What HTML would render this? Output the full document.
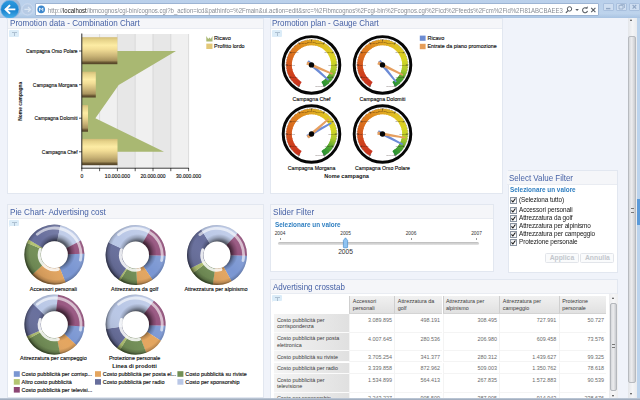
<!DOCTYPE html>
<html><head><meta charset="utf-8"><title>IBM Cognos Business Insight</title>
<style>
html,body{margin:0;padding:0}
body{width:640px;height:400px;overflow:hidden;position:relative;background:#f0f3fa;font-family:"Liberation Sans",sans-serif;color:#222}
.abs{position:absolute}
.panel{position:absolute;background:#fff;border:1px solid #e2e7f0;box-sizing:border-box}
.ph{position:absolute;left:0;top:0;right:0;height:9.6px;background:#f5f6f9;border-bottom:1px solid #e9ecf2}
.pt{position:absolute;left:1.4px;top:-.7px;font-size:8.75px;line-height:11px;color:#4762a6;white-space:nowrap;transform:scaleX(.926);transform-origin:0 0}
.ic{position:absolute;width:10px;height:6.6px;background:#dbecf8;border-radius:1px}
.ic:before{content:"";position:absolute;left:.2px;top:6px;border-left:1.6px solid #dbecf8;border-bottom:1.8px solid transparent}
.ic:after{content:"";position:absolute;left:3.2px;top:1.7px;width:4.6px;height:3px;border-top:.9px solid #a9bccd;background:linear-gradient(90deg,transparent 38%,#a9bccd 38%,#a9bccd 60%,transparent 60%);opacity:.9}
.t{position:absolute;white-space:nowrap;line-height:1}
.sl{top:27px;font-size:4.8px;color:#333;transform:translateX(-50%)}
.tk{top:33.2px;width:.7px;height:1.5px;background:#999}
.cb{position:absolute;left:2.8px;width:6.6px;height:6.6px;border:.8px solid #8b95a3;box-sizing:border-box;background:linear-gradient(135deg,#e9ebee,#fff)}
.cl{position:absolute;left:11.8px;font-size:6.6px;line-height:1;white-space:nowrap;color:#151515;letter-spacing:-.1px;transform:scaleX(.97);transform-origin:0 0}
.btn{position:absolute;top:81.6px;height:10px;box-sizing:border-box;border:1px solid #e2e5ea;border-radius:1.5px;background:#fafbfc;font-size:6.8px;font-weight:bold;color:#c3c7cd;text-align:center;line-height:8.4px}
.ch{box-sizing:border-box;background:linear-gradient(#f1f1f1,#e1e1e1);border-left:1px solid #cfcfcf;border-bottom:1px solid #d4d4d4}
.rh{box-sizing:border-box;background:linear-gradient(90deg,#f4f4f4,#e0e0e0);border-bottom:1px solid #fbfbfb}
.dc{box-sizing:border-box;background:#fff;border-left:1px solid #f4f4f4;border-bottom:1px solid #f4f4f4}
.tx{position:absolute;font-size:5.4px;line-height:6.7px;color:#3a3a3a;white-space:nowrap}
.nm{position:absolute;right:2.5px;font-size:5.4px;line-height:7px;color:#6a6a6a;white-space:nowrap}
</style></head><body>

<!-- ============ browser chrome ============ -->
<div class="abs" id="chrome" style="left:0;top:0;width:640px;height:17.5px;background:linear-gradient(#bad0eb 0,#bdd3ec 75%,#a9c3e2 100%)"></div>
<svg class="abs" style="left:0;top:0" width="640" height="20" viewBox="0 0 640 20">
  <defs>
    <linearGradient id="bk" x1="0" y1="0" x2="0" y2="1"><stop offset="0" stop-color="#2b9be0"/><stop offset=".55" stop-color="#1a84cf"/><stop offset="1" stop-color="#4ab0ea"/></linearGradient>
  </defs>
  <circle cx="11.5" cy="8" r="9.5" fill="#8fa3bd" opacity=".55"/>
  <circle cx="9.8" cy="9.4" r="9.1" fill="url(#bk)" stroke="#7fb6e6" stroke-width=".6"/>
  <path d="M5.6 9.4 L9.4 5.8 M5.6 9.4 L9.4 13 M5.8 9.4 L14.4 9.4" stroke="#fff" stroke-width="1.9" fill="none" stroke-linecap="square"/>
  <circle cx="27.5" cy="9.4" r="5.6" fill="#b7cbe5" stroke="#cfddf0" stroke-width=".9"/>
  <path d="M24.4 9.4 L30.4 9.4 M28 7 L30.5 9.4 L28 11.8" stroke="#dbe6f3" stroke-width="1.2" fill="none"/>
</svg>
<div class="abs" id="addr" style="left:35px;top:3.2px;width:564px;height:12.6px;background:#fff;border:1px solid #9db4d3;box-sizing:border-box;border-radius:1px"></div>
<svg class="abs" style="left:36px;top:4px" width="12" height="11" viewBox="0 0 12 11"><circle cx="5.2" cy="5.4" r="3.8" fill="#3a86cc"/><path d="M3.6 7.2V3.9L5.2 5.6 6.8 3.9V7.2" stroke="#fff" stroke-width=".9" fill="none"/></svg>
<div class="t" id="url" style="left:48px;top:6.6px;font-size:7px;transform:scaleX(.858);transform-origin:0 0;color:#878c94">http://<span style="color:#111">localhost</span>/ibmcognos/cgi-bin/cognos.cgi?b_action=icd&amp;pathinfo=%2Fmain&amp;ui.action=edit&amp;src=%2Fibmcognos%2Fcgi-bin%2Fcognos.cgi%2Ficd%2Ffeeds%2Fcm%2Fid%2Fi81ABCBAEE3</div>
<svg class="abs" style="left:564px;top:4.6px" width="34" height="11" viewBox="0 0 34 11">
  <circle cx="5.5" cy="3.9" r="2.2" fill="none" stroke="#555a62" stroke-width="1"/><path d="M4 5.6L1.9 7.8" stroke="#555a62" stroke-width="1.2"/>
  <path d="M11.3 4.1h3.6l-1.8 2z" fill="#555a62"/>
  <path d="M22.8 3.4A2.5 2.5 0 1 0 23.5 5.9" fill="none" stroke="#555a62" stroke-width="1.05"/><path d="M21.3 3.6h2.4v-2.4z" fill="#555a62"/>
  <path d="M27.2 2.9l4.2 4.2M31.4 2.9l-4.2 4.2" stroke="#555a62" stroke-width="1.1"/>
</svg>
<!-- window buttons -->
<div class="abs" style="left:602.5px;top:2.5px;width:11px;height:8.5px;background:#cfdef1;border:1px solid #a9c0de;box-sizing:border-box;border-radius:1px"></div>
<div class="abs" style="left:615.5px;top:2.5px;width:11px;height:8.5px;background:#cfdef1;border:1px solid #a9c0de;box-sizing:border-box;border-radius:1px"></div>
<div class="abs" style="left:628.5px;top:2.5px;width:11.5px;height:8.5px;background:#cfdef1;border:1px solid #a9c0de;box-sizing:border-box;border-radius:1px"></div>
<svg class="abs" style="left:602px;top:2px" width="38" height="10" viewBox="0 0 38 10"><path d="M4 6.6h4.4" stroke="#90a6c4" stroke-width="1.4"/><path d="M17 3.4h4v3.6h-4zM18.4 2.4h4v3.6" stroke="#90a6c4" fill="none" stroke-width=".8"/><path d="M30.6 3l3.6 3.6M34.2 3l-3.6 3.6" stroke="#90a6c4" stroke-width="1.1"/></svg>

<!-- ============ main scrollbar ============ -->
<div class="abs" style="left:627.5px;top:17.5px;width:9px;height:381px;background:linear-gradient(90deg,#e4e6ea,#f3f4f6 50%,#e9ebee)"></div>
<div class="abs" style="left:628px;top:36px;width:8px;height:347px;background:linear-gradient(90deg,#d6d8db,#ececee 45%,#c9cbcf);border-radius:2px;border:.5px solid #b7babf;box-sizing:border-box"></div>
<div class="abs" style="left:630.2px;top:19.3px;border-left:1.9px solid transparent;border-right:1.9px solid transparent;border-bottom:2.2px solid #444"></div>
<div class="abs" style="left:630.2px;top:393.3px;border-left:1.9px solid transparent;border-right:1.9px solid transparent;border-top:2.2px solid #444"></div>
<div class="abs" style="left:630.5px;top:207.5px;width:3px;height:3px;border-top:.6px solid #777;border-bottom:.6px solid #777"></div>
<div class="abs" style="left:636.5px;top:17.5px;width:3.5px;height:381px;background:#bcd3ec"></div>
<div class="abs" style="left:637px;top:199px;width:3px;height:26px;background:#5b9ad9"></div>

<!-- ============ Panel 1 : combination chart ============ -->
<div class="panel" id="p1" style="left:7.2px;top:17.5px;width:256.8px;height:176px">
  <div class="ph"></div><div class="pt">Promotion data - Combination Chart</div>
  <div class="ic" style="left:.8px;top:11.5px"></div>
</div>

<!-- ============ Panel 2 : gauge chart ============ -->
<div class="panel" id="p2" style="left:270px;top:17.5px;width:232.6px;height:176px">
  <div class="ph"></div><div class="pt" style="transform:scaleX(.915)">Promotion plan - Gauge Chart</div>
  <div class="ic" style="left:.8px;top:11.5px"></div>
</div>

<!-- ============ Panel 3 : pie chart ============ -->
<div class="panel" id="p3" style="left:7.2px;top:204.3px;width:256.8px;height:194.2px">
  <div class="ph" style="height:12.6px"></div><div class="pt" style="top:1.5px;transform:scaleX(.93)">Pie Chart- Advertising cost</div>
  <div class="ic" style="left:.8px;top:14.6px"></div>
</div>

<!-- ============ Panel 4 : slider ============ -->
<div class="panel" id="p4" style="left:270px;top:204.3px;width:224px;height:68.2px">
  <div class="ph" style="height:12.6px"></div><div class="pt" style="top:1.5px;left:1.8px;transform:scaleX(.93)">Slider Filter</div>
  <div class="t" style="left:4px;top:16.4px;font-size:6.7px;font-weight:bold;color:#3180c2;transform:scaleX(.955);transform-origin:0 0">Selezionare un valore</div>
  <div class="t sl" style="left:9px">2004</div><div class="t sl" style="left:74.6px">2005</div><div class="t sl" style="left:140px">2006</div><div class="t sl" style="left:205.5px">2007</div>
  <div class="abs tk" style="left:8.7px"></div><div class="abs tk" style="left:74.3px"></div><div class="abs tk" style="left:139.7px"></div><div class="abs tk" style="left:205.2px"></div>
  <div class="abs" style="left:6.8px;top:36.8px;width:201.4px;height:3.4px;border-radius:2px;background:linear-gradient(#b9b9b9,#d6d6d6 60%,#e4e4e4)"></div>
  <svg class="abs" style="left:70.1px;top:32.2px" width="9" height="12" viewBox="0 0 9 12"><path d="M4.5 .8L6.6 3.4V10.2Q6.6 10.8 6 10.8H3Q2.4 10.8 2.4 10.2V3.4Z" fill="#8fc3f1" stroke="#4d8fcc" stroke-width=".7"/></svg>
  <div class="t" style="left:74.6px;top:43.6px;font-size:6.7px;color:#333;transform:translateX(-50%)">2005</div>

</div>

<!-- ============ Panel 5 : select value ============ -->
<div class="panel" id="p5" style="left:507.5px;top:170px;width:110.5px;height:102.5px">
<div class="abs" style="left:-1.1px;top:0;width:109.6px;height:100px">
  <div class="ph" style="height:12.6px"></div><div class="pt" style="top:1.5px;left:2px;transform:scaleX(.91)">Select Value Filter</div>
  <div class="t" style="left:2.6px;top:16.3px;font-size:6.7px;font-weight:bold;color:#3180c2;transform:scaleX(.955);transform-origin:0 0">Selezionare un valore</div>
  <div class="cb" style="top:26.0px"></div><svg class="abs" style="left:2.8px;top:26.0px" width="7" height="7" viewBox="0 0 7 7"><path d="M1.5 3.3L2.9 5L5.4 1.5" stroke="#111" stroke-width="1.05" fill="none"/></svg><div class="cl" style="top:26.1px">(Seleziona tutto)</div>
  <div class="cb" style="top:36.2px"></div><svg class="abs" style="left:2.8px;top:36.2px" width="7" height="7" viewBox="0 0 7 7"><path d="M1.5 3.3L2.9 5L5.4 1.5" stroke="#111" stroke-width="1.05" fill="none"/></svg><div class="cl" style="top:36.3px">Accessori personali</div>
  <div class="cb" style="top:44.1px"></div><svg class="abs" style="left:2.8px;top:44.1px" width="7" height="7" viewBox="0 0 7 7"><path d="M1.5 3.3L2.9 5L5.4 1.5" stroke="#111" stroke-width="1.05" fill="none"/></svg><div class="cl" style="top:44.2px">Attrezzatura da golf</div>
  <div class="cb" style="top:52.1px"></div><svg class="abs" style="left:2.8px;top:52.1px" width="7" height="7" viewBox="0 0 7 7"><path d="M1.5 3.3L2.9 5L5.4 1.5" stroke="#111" stroke-width="1.05" fill="none"/></svg><div class="cl" style="top:52.2px">Attrezzatura per alpinismo</div>
  <div class="cb" style="top:60.2px"></div><svg class="abs" style="left:2.8px;top:60.2px" width="7" height="7" viewBox="0 0 7 7"><path d="M1.5 3.3L2.9 5L5.4 1.5" stroke="#111" stroke-width="1.05" fill="none"/></svg><div class="cl" style="top:60.3px">Attrezzatura per campeggio</div>
  <div class="cb" style="top:68.3px"></div><svg class="abs" style="left:2.8px;top:68.3px" width="7" height="7" viewBox="0 0 7 7"><path d="M1.5 3.3L2.9 5L5.4 1.5" stroke="#111" stroke-width="1.05" fill="none"/></svg><div class="cl" style="top:68.4px">Protezione personale</div>
  <div class="btn" style="left:37.5px;width:34px">Applica</div><div class="btn" style="left:73px;width:34px">Annulla</div>
</div>

</div>

<!-- ============ Panel 6 : crosstab ============ -->
<div class="panel" id="p6" style="left:270px;top:279.3px;width:348px;height:125px">
  <div class="ph" style="height:12.6px"></div><div class="pt" style="top:1.5px;left:1.5px;transform:scaleX(.913)">Advertising crosstab</div>
  <div class="ic" style="left:.8px;top:14.6px"></div>
</div>

<div class="abs ch" style="left:349.4px;top:295.8px;width:45.0px;height:18.0px"><div class="tx" style="left:2.4px;top:2.6px">Accessori<br>personali</div></div>
<div class="abs ch" style="left:394.4px;top:295.8px;width:48.1px;height:18.0px"><div class="tx" style="left:2.4px;top:2.6px">Attrezzatura da<br>golf</div></div>
<div class="abs ch" style="left:442.5px;top:295.8px;width:56.9px;height:18.0px"><div class="tx" style="left:2.4px;top:2.6px">Attrezzatura per<br>alpinismo</div></div>
<div class="abs ch" style="left:499.4px;top:295.8px;width:59.4px;height:18.0px"><div class="tx" style="left:2.4px;top:2.6px">Attrezzatura per<br>campeggio</div></div>
<div class="abs ch" style="left:558.8px;top:295.8px;width:47.7px;height:18.0px"><div class="tx" style="left:2.4px;top:2.6px">Protezione<br>personale</div></div>
<div class="abs rh" style="left:273.5px;top:313.8px;width:75.9px;height:18.8px"><div class="tx" style="left:3.4px;top:2.9px">Costo pubblicità per<br>corrispondenza</div></div>
<div class="abs dc" style="left:349.4px;top:313.8px;width:45.0px;height:18.8px"><div class="nm" style="top:3.0px">3.089.895</div></div>
<div class="abs dc" style="left:394.4px;top:313.8px;width:48.1px;height:18.8px"><div class="nm" style="top:3.0px">498.191</div></div>
<div class="abs dc" style="left:442.5px;top:313.8px;width:56.9px;height:18.8px"><div class="nm" style="top:3.0px">308.495</div></div>
<div class="abs dc" style="left:499.4px;top:313.8px;width:59.4px;height:18.8px"><div class="nm" style="top:3.0px">727.991</div></div>
<div class="abs dc" style="left:558.8px;top:313.8px;width:47.7px;height:18.8px"><div class="nm" style="top:3.0px">50.727</div></div>
<div class="abs rh" style="left:273.5px;top:332.55px;width:75.9px;height:18.8px"><div class="tx" style="left:3.4px;top:2.9px">Costo pubblicità per posta<br>elettronica</div></div>
<div class="abs dc" style="left:349.4px;top:332.55px;width:45.0px;height:18.8px"><div class="nm" style="top:3.0px">4.007.645</div></div>
<div class="abs dc" style="left:394.4px;top:332.55px;width:48.1px;height:18.8px"><div class="nm" style="top:3.0px">280.536</div></div>
<div class="abs dc" style="left:442.5px;top:332.55px;width:56.9px;height:18.8px"><div class="nm" style="top:3.0px">206.980</div></div>
<div class="abs dc" style="left:499.4px;top:332.55px;width:59.4px;height:18.8px"><div class="nm" style="top:3.0px">609.458</div></div>
<div class="abs dc" style="left:558.8px;top:332.55px;width:47.7px;height:18.8px"><div class="nm" style="top:3.0px">73.576</div></div>
<div class="abs rh" style="left:273.5px;top:351.3px;width:75.9px;height:11.2px"><div class="tx" style="left:3.4px;top:2.5px">Costo pubblicità su riviste</div></div>
<div class="abs dc" style="left:349.4px;top:351.3px;width:45.0px;height:11.2px"><div class="nm" style="top:2.3px">3.705.254</div></div>
<div class="abs dc" style="left:394.4px;top:351.3px;width:48.1px;height:11.2px"><div class="nm" style="top:2.3px">341.377</div></div>
<div class="abs dc" style="left:442.5px;top:351.3px;width:56.9px;height:11.2px"><div class="nm" style="top:2.3px">280.312</div></div>
<div class="abs dc" style="left:499.4px;top:351.3px;width:59.4px;height:11.2px"><div class="nm" style="top:2.3px">1.439.627</div></div>
<div class="abs dc" style="left:558.8px;top:351.3px;width:47.7px;height:11.2px"><div class="nm" style="top:2.3px">99.325</div></div>
<div class="abs rh" style="left:273.5px;top:362.55px;width:75.9px;height:11.2px"><div class="tx" style="left:3.4px;top:2.5px">Costo pubblicità per radio</div></div>
<div class="abs dc" style="left:349.4px;top:362.55px;width:45.0px;height:11.2px"><div class="nm" style="top:2.3px">3.339.858</div></div>
<div class="abs dc" style="left:394.4px;top:362.55px;width:48.1px;height:11.2px"><div class="nm" style="top:2.3px">872.962</div></div>
<div class="abs dc" style="left:442.5px;top:362.55px;width:56.9px;height:11.2px"><div class="nm" style="top:2.3px">509.003</div></div>
<div class="abs dc" style="left:499.4px;top:362.55px;width:59.4px;height:11.2px"><div class="nm" style="top:2.3px">1.350.762</div></div>
<div class="abs dc" style="left:558.8px;top:362.55px;width:47.7px;height:11.2px"><div class="nm" style="top:2.3px">78.618</div></div>
<div class="abs rh" style="left:273.5px;top:373.8px;width:75.9px;height:18.8px"><div class="tx" style="left:3.4px;top:2.9px">Costo pubblicità per<br>televisione</div></div>
<div class="abs dc" style="left:349.4px;top:373.8px;width:45.0px;height:18.8px"><div class="nm" style="top:3.0px">1.534.899</div></div>
<div class="abs dc" style="left:394.4px;top:373.8px;width:48.1px;height:18.8px"><div class="nm" style="top:3.0px">564.413</div></div>
<div class="abs dc" style="left:442.5px;top:373.8px;width:56.9px;height:18.8px"><div class="nm" style="top:3.0px">267.835</div></div>
<div class="abs dc" style="left:499.4px;top:373.8px;width:59.4px;height:18.8px"><div class="nm" style="top:3.0px">1.572.883</div></div>
<div class="abs dc" style="left:558.8px;top:373.8px;width:47.7px;height:18.8px"><div class="nm" style="top:3.0px">90.539</div></div>
<div class="abs rh" style="left:273.5px;top:392.55px;width:75.9px;height:18.8px"><div class="tx" style="left:3.4px;top:2.5px">Costo per sponsorship</div></div>
<div class="abs dc" style="left:349.4px;top:392.55px;width:45.0px;height:18.8px"><div class="nm" style="top:2.3px">2.243.227</div></div>
<div class="abs dc" style="left:394.4px;top:392.55px;width:48.1px;height:18.8px"><div class="nm" style="top:2.3px">905.509</div></div>
<div class="abs dc" style="left:442.5px;top:392.55px;width:56.9px;height:18.8px"><div class="nm" style="top:2.3px">387.905</div></div>
<div class="abs dc" style="left:499.4px;top:392.55px;width:59.4px;height:18.8px"><div class="nm" style="top:2.3px">914.943</div></div>
<div class="abs dc" style="left:558.8px;top:392.55px;width:47.7px;height:18.8px"><div class="nm" style="top:2.3px">238.676</div></div>
<!-- crosstab scrollbar -->
<div class="abs" style="left:609.3px;top:294px;width:8.4px;height:106px;background:linear-gradient(90deg,#ececee,#f6f6f7 50%,#ededee)"></div>
<div class="abs" style="left:609.8px;top:302.5px;width:7.6px;height:88.5px;background:linear-gradient(90deg,#d6d8db,#ececee 45%,#c9cbcf);border-radius:2px;border:.5px solid #b4b7bc;box-sizing:border-box"></div>
<div class="abs" style="left:611.7px;top:296.6px;border-left:1.8px solid transparent;border-right:1.8px solid transparent;border-bottom:2.1px solid #444"></div>
<div class="abs" style="left:611.7px;top:395.4px;border-left:1.8px solid transparent;border-right:1.8px solid transparent;border-top:2.1px solid #444"></div>
<div class="abs" style="left:612.2px;top:343.5px;width:2.8px;height:2.8px;border-top:.6px solid #777;border-bottom:.6px solid #777"></div>
<svg class="abs" style="left:0;top:0;font-family:'Liberation Sans',sans-serif" width="640" height="400" viewBox="0 0 640 400">
<defs>
<linearGradient id="gold" x1="0" y1="0" x2="0" y2="1"><stop offset="0" stop-color="#d3bd78"/><stop offset=".1" stop-color="#e6d38a"/><stop offset=".3" stop-color="#fdeca4"/><stop offset=".45" stop-color="#f2dd96"/><stop offset=".7" stop-color="#c9b376"/><stop offset=".86" stop-color="#a8935e"/><stop offset=".93" stop-color="#6b5934"/><stop offset="1" stop-color="#4f4026"/></linearGradient>
<radialGradient id="pout" cx=".525" cy=".475" r=".525"><stop offset="0" stop-color="#000" stop-opacity="0"/><stop offset=".84" stop-color="#000" stop-opacity="0"/><stop offset=".93" stop-color="#000" stop-opacity=".16"/><stop offset="1" stop-color="#000" stop-opacity=".5"/></radialGradient>
<radialGradient id="pin" cx=".535" cy=".465" r=".5"><stop offset="0" stop-color="#000" stop-opacity=".55"/><stop offset=".40" stop-color="#000" stop-opacity=".55"/><stop offset=".52" stop-color="#000" stop-opacity=".2"/><stop offset=".63" stop-color="#000" stop-opacity="0"/><stop offset="1" stop-color="#000" stop-opacity="0"/></radialGradient>
<linearGradient id="plin" x1=".85" y1=".15" x2=".15" y2=".85"><stop offset="0" stop-color="#fff" stop-opacity=".16"/><stop offset=".5" stop-color="#fff" stop-opacity="0"/><stop offset="1" stop-color="#000" stop-opacity=".14"/></linearGradient>
<filter id="b1" x="-20%" y="-20%" width="140%" height="140%"><feGaussianBlur stdDeviation=".45"/></filter>
<filter id="b2" x="-20%" y="-20%" width="140%" height="140%"><feGaussianBlur stdDeviation=".7"/></filter>
</defs>
<!-- combination chart -->
<rect x="81.80" y="34" width="17.80" height="133.6" fill="#f2f2f2"/>
<rect x="99.60" y="34" width="17.80" height="133.6" fill="#f0f0f0"/>
<rect x="117.40" y="34" width="17.80" height="133.6" fill="#e7e7e7"/>
<rect x="135.20" y="34" width="17.80" height="133.6" fill="#f0f0f0"/>
<rect x="153.00" y="34" width="17.80" height="133.6" fill="#e7e7e7"/>
<rect x="170.80" y="34" width="17.80" height="133.6" fill="#f0f0f0"/>
<path d="M99.60 34V167.6" stroke="#d0d0d0" stroke-width=".7"/>
<path d="M117.40 34V167.6" stroke="#d0d0d0" stroke-width=".7"/>
<path d="M135.20 34V167.6" stroke="#d0d0d0" stroke-width=".7"/>
<path d="M153.00 34V167.6" stroke="#d0d0d0" stroke-width=".7"/>
<path d="M170.80 34V167.6" stroke="#d0d0d0" stroke-width=".7"/>
<path d="M188.60 34V167.6" stroke="#d0d0d0" stroke-width=".7"/>
<path d="M81.8 51L176 51L118.7 84.9L95.4 118.2L164 151.7L81.8 151.7Z" fill="#a9b872"/>
<rect x="81.8" y="37.2" width="35.60" height="27.00" fill="url(#gold)"/>
<rect x="81.8" y="71.7" width="14.00" height="25.80" fill="url(#gold)"/>
<rect x="81.8" y="105.1" width="6.20" height="26.60" fill="url(#gold)"/>
<rect x="81.8" y="138.9" width="35.70" height="26.30" fill="url(#gold)"/>
<path d="M81.8 33.5V168.4" stroke="#2a2a2a" stroke-width="1"/>
<path d="M81.3 168.2H188.9" stroke="#222" stroke-width=".9"/>
<path d="M81.80 168V171.2" stroke="#111" stroke-width=".7"/>
<path d="M99.60 168V171.2" stroke="#111" stroke-width=".7"/>
<path d="M117.40 168V171.2" stroke="#111" stroke-width=".7"/>
<path d="M135.20 168V171.2" stroke="#111" stroke-width=".7"/>
<path d="M153.00 168V171.2" stroke="#111" stroke-width=".7"/>
<path d="M170.80 168V171.2" stroke="#111" stroke-width=".7"/>
<path d="M188.60 168V171.2" stroke="#111" stroke-width=".7"/>
<path d="M79 51H81.8" stroke="#111" stroke-width=".7"/>
<text transform="translate(77.6 52.9) scale(0.91 1)" font-size="5.4" text-anchor="end" fill="#111" stroke="#111" stroke-width=".14">Campagna Orso Polare</text>
<path d="M79 84.7H81.8" stroke="#111" stroke-width=".7"/>
<text transform="translate(77.6 86.60000000000001) scale(0.91 1)" font-size="5.4" text-anchor="end" fill="#111" stroke="#111" stroke-width=".14">Campagna Morgana</text>
<path d="M79 118.2H81.8" stroke="#111" stroke-width=".7"/>
<text transform="translate(77.6 120.10000000000001) scale(0.91 1)" font-size="5.4" text-anchor="end" fill="#111" stroke="#111" stroke-width=".14">Campagna Dolomiti</text>
<path d="M79 151.8H81.8" stroke="#111" stroke-width=".7"/>
<text transform="translate(77.6 153.70000000000002) scale(0.91 1)" font-size="5.4" text-anchor="end" fill="#111" stroke="#111" stroke-width=".14">Campagna Chef</text>
<text transform="translate(81.8 178) scale(0.93 1)" font-size="5.4" text-anchor="middle" fill="#111" stroke="#111" stroke-width=".14">0</text>
<text transform="translate(117.4 178) scale(0.93 1)" font-size="5.4" text-anchor="middle" fill="#111" stroke="#111" stroke-width=".14">10.000.000</text>
<text transform="translate(153.0 178) scale(0.93 1)" font-size="5.4" text-anchor="middle" fill="#111" stroke="#111" stroke-width=".14">20.000.000</text>
<text transform="translate(188.6 178) scale(0.93 1)" font-size="5.4" text-anchor="middle" fill="#111" stroke="#111" stroke-width=".14">30.000.000</text>
<text transform="translate(21.6 101.2) rotate(-90) scale(.905 1)" font-size="5.4" font-weight="bold" text-anchor="middle" fill="#111">Nome campagna</text>
<path d="M206.3 41.4V35.9L208.2 38.9L209.5 37.6L210.8 38.9L212.5 35.9V41.4Z" fill="#a9b872"/><text transform="translate(214.1 40.1) scale(1 1)" font-size="5.5" text-anchor="start" fill="#111" stroke="#111" stroke-width=".14">Ricavo</text>
<rect x="206.3" y="43.6" width="6.2" height="5.4" fill="#e3c878"/><text transform="translate(214.1 47.8) scale(0.98 1)" font-size="5.5" text-anchor="start" fill="#111" stroke="#111" stroke-width=".14">Profitto lordo</text>
<!-- gauges -->
<circle cx="311.5" cy="64.9" r="28.3" fill="#fff" stroke="#060606" stroke-width="2.95"/>
<path d="M298.90 86.72A25.2 25.2 0 0 1 295.99 84.76L299.37 80.42A19.7 19.7 0 0 0 301.65 81.96Z" fill="#c93620"/>
<path d="M297.05 85.54A25.2 25.2 0 0 1 294.31 83.33L298.06 79.31A19.7 19.7 0 0 0 300.20 81.04Z" fill="#ca381f"/>
<path d="M295.30 84.20A25.2 25.2 0 0 1 292.77 81.76L296.86 78.08A19.7 19.7 0 0 0 298.84 79.99Z" fill="#cb391f"/>
<path d="M293.68 82.72A25.2 25.2 0 0 1 291.37 80.07L295.77 76.76A19.7 19.7 0 0 0 297.57 78.83Z" fill="#cc3b1f"/>
<path d="M292.20 81.10A25.2 25.2 0 0 1 290.13 78.25L294.79 75.34A19.7 19.7 0 0 0 296.41 77.56Z" fill="#cd3c1e"/>
<path d="M290.86 79.35A25.2 25.2 0 0 1 289.05 76.34L293.95 73.84A19.7 19.7 0 0 0 295.36 76.20Z" fill="#ce3e1e"/>
<path d="M289.68 77.50A25.2 25.2 0 0 1 288.13 74.34L293.23 72.28A19.7 19.7 0 0 0 294.44 74.75Z" fill="#cf401e"/>
<path d="M288.66 75.55A25.2 25.2 0 0 1 287.40 72.27L292.66 70.66A19.7 19.7 0 0 0 293.65 73.23Z" fill="#d0421d"/>
<path d="M287.82 73.52A25.2 25.2 0 0 1 286.85 70.14L292.23 69.00A19.7 19.7 0 0 0 292.99 71.64Z" fill="#d1461d"/>
<path d="M287.16 71.42A25.2 25.2 0 0 1 286.49 67.97L291.95 67.30A19.7 19.7 0 0 0 292.47 70.00Z" fill="#d24a1d"/>
<path d="M286.68 69.28A25.2 25.2 0 0 1 286.32 65.78L291.81 65.59A19.7 19.7 0 0 0 292.10 68.32Z" fill="#d3501e"/>
<path d="M286.40 67.10A25.2 25.2 0 0 1 286.33 63.58L291.83 63.87A19.7 19.7 0 0 0 291.87 66.62Z" fill="#d5541e"/>
<path d="M286.30 64.90A25.2 25.2 0 0 1 286.55 61.39L291.99 62.16A19.7 19.7 0 0 0 291.80 64.90Z" fill="#d65a1e"/>
<path d="M286.40 62.70A25.2 25.2 0 0 1 286.95 59.23L292.30 60.47A19.7 19.7 0 0 0 291.87 63.18Z" fill="#d75e1f"/>
<path d="M286.68 60.52A25.2 25.2 0 0 1 287.53 57.11L292.76 58.81A19.7 19.7 0 0 0 292.10 61.48Z" fill="#d8641f"/>
<path d="M287.16 58.38A25.2 25.2 0 0 1 288.30 55.05L293.37 57.20A19.7 19.7 0 0 0 292.47 59.80Z" fill="#d9681f"/>
<path d="M287.82 56.28A25.2 25.2 0 0 1 289.25 53.07L294.11 55.65A19.7 19.7 0 0 0 292.99 58.16Z" fill="#da6c1f"/>
<path d="M288.66 54.25A25.2 25.2 0 0 1 290.37 51.18L294.98 54.17A19.7 19.7 0 0 0 293.65 56.57Z" fill="#db701f"/>
<path d="M289.68 52.30A25.2 25.2 0 0 1 291.64 49.39L295.98 52.77A19.7 19.7 0 0 0 294.44 55.05Z" fill="#db741f"/>
<path d="M290.86 50.45A25.2 25.2 0 0 1 293.07 47.71L297.09 51.46A19.7 19.7 0 0 0 295.36 53.60Z" fill="#dc7820"/>
<path d="M292.20 48.70A25.2 25.2 0 0 1 294.64 46.17L298.32 50.26A19.7 19.7 0 0 0 296.41 52.24Z" fill="#dd7d20"/>
<path d="M293.68 47.08A25.2 25.2 0 0 1 296.33 44.77L299.64 49.17A19.7 19.7 0 0 0 297.57 50.97Z" fill="#dd8120"/>
<path d="M295.30 45.60A25.2 25.2 0 0 1 298.15 43.53L301.06 48.19A19.7 19.7 0 0 0 298.84 49.81Z" fill="#de8520"/>
<path d="M297.05 44.26A25.2 25.2 0 0 1 300.06 42.45L302.56 47.35A19.7 19.7 0 0 0 300.20 48.76Z" fill="#de8920"/>
<path d="M298.90 43.08A25.2 25.2 0 0 1 302.06 41.53L304.12 46.63A19.7 19.7 0 0 0 301.65 47.84Z" fill="#de8d20"/>
<path d="M300.85 42.06A25.2 25.2 0 0 1 304.13 40.80L305.74 46.06A19.7 19.7 0 0 0 303.17 47.05Z" fill="#de9120"/>
<path d="M302.88 41.22A25.2 25.2 0 0 1 306.26 40.25L307.40 45.63A19.7 19.7 0 0 0 304.76 46.39Z" fill="#df9521"/>
<path d="M304.98 40.56A25.2 25.2 0 0 1 308.43 39.89L309.10 45.35A19.7 19.7 0 0 0 306.40 45.87Z" fill="#df9921"/>
<path d="M307.12 40.08A25.2 25.2 0 0 1 310.62 39.72L310.81 45.21A19.7 19.7 0 0 0 308.08 45.50Z" fill="#df9d21"/>
<path d="M309.30 39.80A25.2 25.2 0 0 1 312.82 39.73L312.53 45.23A19.7 19.7 0 0 0 309.78 45.27Z" fill="#dfa121"/>
<path d="M311.50 39.70A25.2 25.2 0 0 1 315.01 39.95L314.24 45.39A19.7 19.7 0 0 0 311.50 45.20Z" fill="#dfa521"/>
<path d="M313.70 39.80A25.2 25.2 0 0 1 317.17 40.35L315.93 45.70A19.7 19.7 0 0 0 313.22 45.27Z" fill="#dfa921"/>
<path d="M315.88 40.08A25.2 25.2 0 0 1 319.29 40.93L317.59 46.16A19.7 19.7 0 0 0 314.92 45.50Z" fill="#dfad21"/>
<path d="M318.02 40.56A25.2 25.2 0 0 1 321.35 41.70L319.20 46.77A19.7 19.7 0 0 0 316.60 45.87Z" fill="#dfb221"/>
<path d="M320.12 41.22A25.2 25.2 0 0 1 323.33 42.65L320.75 47.51A19.7 19.7 0 0 0 318.24 46.39Z" fill="#e0b622"/>
<path d="M322.15 42.06A25.2 25.2 0 0 1 325.22 43.77L322.23 48.38A19.7 19.7 0 0 0 319.83 47.05Z" fill="#e0ba22"/>
<path d="M324.10 43.08A25.2 25.2 0 0 1 327.01 45.04L323.63 49.38A19.7 19.7 0 0 0 321.35 47.84Z" fill="#e0be22"/>
<path d="M325.95 44.26A25.2 25.2 0 0 1 328.69 46.47L324.94 50.49A19.7 19.7 0 0 0 322.80 48.76Z" fill="#e0c222"/>
<path d="M327.70 45.60A25.2 25.2 0 0 1 330.23 48.04L326.14 51.72A19.7 19.7 0 0 0 324.16 49.81Z" fill="#dfc422"/>
<path d="M329.32 47.08A25.2 25.2 0 0 1 331.63 49.73L327.23 53.04A19.7 19.7 0 0 0 325.43 50.97Z" fill="#dec723"/>
<path d="M330.80 48.70A25.2 25.2 0 0 1 332.87 51.55L328.21 54.46A19.7 19.7 0 0 0 326.59 52.24Z" fill="#ddca23"/>
<path d="M332.14 50.45A25.2 25.2 0 0 1 333.95 53.46L329.05 55.96A19.7 19.7 0 0 0 327.64 53.60Z" fill="#ddcd23"/>
<path d="M333.32 52.30A25.2 25.2 0 0 1 334.87 55.46L329.77 57.52A19.7 19.7 0 0 0 328.56 55.05Z" fill="#dccf23"/>
<path d="M334.34 54.25A25.2 25.2 0 0 1 335.60 57.53L330.34 59.14A19.7 19.7 0 0 0 329.35 56.57Z" fill="#dbd224"/>
<path d="M335.18 56.28A25.2 25.2 0 0 1 336.15 59.66L330.77 60.80A19.7 19.7 0 0 0 330.01 58.16Z" fill="#dad524"/>
<path d="M335.84 58.38A25.2 25.2 0 0 1 336.51 61.83L331.05 62.50A19.7 19.7 0 0 0 330.53 59.80Z" fill="#d6d525"/>
<path d="M336.32 60.52A25.2 25.2 0 0 1 336.68 64.02L331.19 64.21A19.7 19.7 0 0 0 330.90 61.48Z" fill="#ced326"/>
<path d="M336.60 62.70A25.2 25.2 0 0 1 336.67 66.22L331.17 65.93A19.7 19.7 0 0 0 331.13 63.18Z" fill="#c6d028"/>
<path d="M336.70 64.90A25.2 25.2 0 0 1 336.45 68.41L331.01 67.64A19.7 19.7 0 0 0 331.20 64.90Z" fill="#bdce29"/>
<path d="M336.60 67.10A25.2 25.2 0 0 1 336.05 70.57L330.70 69.33A19.7 19.7 0 0 0 331.13 66.62Z" fill="#b5cc2b"/>
<path d="M336.32 69.28A25.2 25.2 0 0 1 335.47 72.69L330.24 70.99A19.7 19.7 0 0 0 330.90 68.32Z" fill="#acc92c"/>
<path d="M335.84 71.42A25.2 25.2 0 0 1 334.70 74.75L329.63 72.60A19.7 19.7 0 0 0 330.53 70.00Z" fill="#98c22d"/>
<path d="M335.18 73.52A25.2 25.2 0 0 1 333.75 76.73L328.89 74.15A19.7 19.7 0 0 0 330.01 71.64Z" fill="#84ba2f"/>
<path d="M334.34 75.55A25.2 25.2 0 0 1 332.63 78.62L328.02 75.63A19.7 19.7 0 0 0 329.35 73.23Z" fill="#71b230"/>
<path d="M333.32 77.50A25.2 25.2 0 0 1 331.36 80.41L327.02 77.03A19.7 19.7 0 0 0 328.56 74.75Z" fill="#5daa31"/>
<path d="M332.14 79.35A25.2 25.2 0 0 1 329.93 82.09L325.91 78.34A19.7 19.7 0 0 0 327.64 76.20Z" fill="#4da432"/>
<path d="M330.80 81.10A25.2 25.2 0 0 1 328.36 83.63L324.68 79.54A19.7 19.7 0 0 0 326.59 77.56Z" fill="#449f33"/>
<path d="M329.32 82.72A25.2 25.2 0 0 1 326.67 85.03L323.36 80.63A19.7 19.7 0 0 0 325.43 78.83Z" fill="#3c9b33"/>
<path d="M327.70 84.20A25.2 25.2 0 0 1 324.85 86.27L321.94 81.61A19.7 19.7 0 0 0 324.16 79.99Z" fill="#349733"/>
<path d="M325.95 85.54A25.2 25.2 0 0 1 324.10 86.72L321.35 81.96A19.7 19.7 0 0 0 322.80 81.04Z" fill="#2c9234"/>
<path d="M298.75 86.98A25.5 25.5 0 1 1 324.25 86.98" fill="none" stroke="#111" stroke-width=".6" stroke-dasharray=".5 1.1" opacity=".8"/>
<path d="M299.80 85.16L298.60 87.24" stroke="#222" stroke-width=".5"/>
<text x="299.05" y="87.16" font-size="1.7" text-anchor="start" fill="#1a0a00" opacity=".7">0</text>
<path d="M291.24 76.60L289.16 77.80" stroke="#222" stroke-width=".5"/>
<text x="289.94" y="78.05" font-size="1.7" text-anchor="start" fill="#1a0a00" opacity=".7">5.000.000</text>
<path d="M288.10 64.90L285.70 64.90" stroke="#222" stroke-width=".5"/>
<text x="286.60" y="65.60" font-size="1.7" text-anchor="start" fill="#1a0a00" opacity=".7">10.000.000</text>
<path d="M291.24 53.20L289.16 52.00" stroke="#222" stroke-width=".5"/>
<text x="289.94" y="53.15" font-size="1.7" text-anchor="start" fill="#1a0a00" opacity=".7">15.000.000</text>
<path d="M299.80 44.64L298.60 42.56" stroke="#222" stroke-width=".5"/>
<text x="299.05" y="44.04" font-size="1.7" text-anchor="start" fill="#1a0a00" opacity=".7">20.000.000</text>
<path d="M311.50 41.50L311.50 39.10" stroke="#222" stroke-width=".5"/>
<text x="311.50" y="42.80" font-size="1.7" text-anchor="middle" fill="#1a0a00" opacity=".7">25.000.000</text>
<path d="M323.20 44.64L324.40 42.56" stroke="#222" stroke-width=".5"/>
<text x="323.95" y="44.04" font-size="1.7" text-anchor="end" fill="#1a0a00" opacity=".7">30.000.000</text>
<path d="M331.76 53.20L333.84 52.00" stroke="#222" stroke-width=".5"/>
<text x="333.06" y="53.15" font-size="1.7" text-anchor="end" fill="#1a0a00" opacity=".7">35.000.000</text>
<path d="M334.90 64.90L337.30 64.90" stroke="#222" stroke-width=".5"/>
<text x="336.40" y="65.60" font-size="1.7" text-anchor="end" fill="#1a0a00" opacity=".7">40.000.000</text>
<path d="M331.76 76.60L333.84 77.80" stroke="#222" stroke-width=".5"/>
<text x="333.06" y="78.05" font-size="1.7" text-anchor="end" fill="#1a0a00" opacity=".7">45.000.000</text>
<path d="M323.20 85.16L324.40 87.24" stroke="#222" stroke-width=".5"/>
<text x="323.95" y="87.16" font-size="1.7" text-anchor="end" fill="#1a0a00" opacity=".7">50.000.000</text>
<path d="M306.71 62.75L327.94 80.82L329.06 79.58L308.86 60.36Z" fill="#6c8bd6"/>
<path d="M306.27 64.38L332.27 74.86L332.93 73.34L307.56 61.42Z" fill="#e69f5f"/>
<circle cx="311.5" cy="64.9" r="2.7" fill="#050505"/>
<text transform="translate(311.5 100.5) scale(0.97 1)" font-size="5.4" text-anchor="middle" fill="#111" stroke="#111" stroke-width=".14">Campagna Chef</text>
<circle cx="382.5" cy="64.9" r="28.3" fill="#fff" stroke="#060606" stroke-width="2.95"/>
<path d="M369.90 86.72A25.2 25.2 0 0 1 366.99 84.76L370.37 80.42A19.7 19.7 0 0 0 372.65 81.96Z" fill="#c93620"/>
<path d="M368.05 85.54A25.2 25.2 0 0 1 365.31 83.33L369.06 79.31A19.7 19.7 0 0 0 371.20 81.04Z" fill="#ca381f"/>
<path d="M366.30 84.20A25.2 25.2 0 0 1 363.77 81.76L367.86 78.08A19.7 19.7 0 0 0 369.84 79.99Z" fill="#cb391f"/>
<path d="M364.68 82.72A25.2 25.2 0 0 1 362.37 80.07L366.77 76.76A19.7 19.7 0 0 0 368.57 78.83Z" fill="#cc3b1f"/>
<path d="M363.20 81.10A25.2 25.2 0 0 1 361.13 78.25L365.79 75.34A19.7 19.7 0 0 0 367.41 77.56Z" fill="#cd3c1e"/>
<path d="M361.86 79.35A25.2 25.2 0 0 1 360.05 76.34L364.95 73.84A19.7 19.7 0 0 0 366.36 76.20Z" fill="#ce3e1e"/>
<path d="M360.68 77.50A25.2 25.2 0 0 1 359.13 74.34L364.23 72.28A19.7 19.7 0 0 0 365.44 74.75Z" fill="#cf401e"/>
<path d="M359.66 75.55A25.2 25.2 0 0 1 358.40 72.27L363.66 70.66A19.7 19.7 0 0 0 364.65 73.23Z" fill="#d0421d"/>
<path d="M358.82 73.52A25.2 25.2 0 0 1 357.85 70.14L363.23 69.00A19.7 19.7 0 0 0 363.99 71.64Z" fill="#d1461d"/>
<path d="M358.16 71.42A25.2 25.2 0 0 1 357.49 67.97L362.95 67.30A19.7 19.7 0 0 0 363.47 70.00Z" fill="#d24a1d"/>
<path d="M357.68 69.28A25.2 25.2 0 0 1 357.32 65.78L362.81 65.59A19.7 19.7 0 0 0 363.10 68.32Z" fill="#d3501e"/>
<path d="M357.40 67.10A25.2 25.2 0 0 1 357.33 63.58L362.83 63.87A19.7 19.7 0 0 0 362.87 66.62Z" fill="#d5541e"/>
<path d="M357.30 64.90A25.2 25.2 0 0 1 357.55 61.39L362.99 62.16A19.7 19.7 0 0 0 362.80 64.90Z" fill="#d65a1e"/>
<path d="M357.40 62.70A25.2 25.2 0 0 1 357.95 59.23L363.30 60.47A19.7 19.7 0 0 0 362.87 63.18Z" fill="#d75e1f"/>
<path d="M357.68 60.52A25.2 25.2 0 0 1 358.53 57.11L363.76 58.81A19.7 19.7 0 0 0 363.10 61.48Z" fill="#d8641f"/>
<path d="M358.16 58.38A25.2 25.2 0 0 1 359.30 55.05L364.37 57.20A19.7 19.7 0 0 0 363.47 59.80Z" fill="#d9681f"/>
<path d="M358.82 56.28A25.2 25.2 0 0 1 360.25 53.07L365.11 55.65A19.7 19.7 0 0 0 363.99 58.16Z" fill="#da6c1f"/>
<path d="M359.66 54.25A25.2 25.2 0 0 1 361.37 51.18L365.98 54.17A19.7 19.7 0 0 0 364.65 56.57Z" fill="#db701f"/>
<path d="M360.68 52.30A25.2 25.2 0 0 1 362.64 49.39L366.98 52.77A19.7 19.7 0 0 0 365.44 55.05Z" fill="#db741f"/>
<path d="M361.86 50.45A25.2 25.2 0 0 1 364.07 47.71L368.09 51.46A19.7 19.7 0 0 0 366.36 53.60Z" fill="#dc7820"/>
<path d="M363.20 48.70A25.2 25.2 0 0 1 365.64 46.17L369.32 50.26A19.7 19.7 0 0 0 367.41 52.24Z" fill="#dd7d20"/>
<path d="M364.68 47.08A25.2 25.2 0 0 1 367.33 44.77L370.64 49.17A19.7 19.7 0 0 0 368.57 50.97Z" fill="#dd8120"/>
<path d="M366.30 45.60A25.2 25.2 0 0 1 369.15 43.53L372.06 48.19A19.7 19.7 0 0 0 369.84 49.81Z" fill="#de8520"/>
<path d="M368.05 44.26A25.2 25.2 0 0 1 371.06 42.45L373.56 47.35A19.7 19.7 0 0 0 371.20 48.76Z" fill="#de8920"/>
<path d="M369.90 43.08A25.2 25.2 0 0 1 373.06 41.53L375.12 46.63A19.7 19.7 0 0 0 372.65 47.84Z" fill="#de8d20"/>
<path d="M371.85 42.06A25.2 25.2 0 0 1 375.13 40.80L376.74 46.06A19.7 19.7 0 0 0 374.17 47.05Z" fill="#de9120"/>
<path d="M373.88 41.22A25.2 25.2 0 0 1 377.26 40.25L378.40 45.63A19.7 19.7 0 0 0 375.76 46.39Z" fill="#df9521"/>
<path d="M375.98 40.56A25.2 25.2 0 0 1 379.43 39.89L380.10 45.35A19.7 19.7 0 0 0 377.40 45.87Z" fill="#df9921"/>
<path d="M378.12 40.08A25.2 25.2 0 0 1 381.62 39.72L381.81 45.21A19.7 19.7 0 0 0 379.08 45.50Z" fill="#df9d21"/>
<path d="M380.30 39.80A25.2 25.2 0 0 1 383.82 39.73L383.53 45.23A19.7 19.7 0 0 0 380.78 45.27Z" fill="#dfa121"/>
<path d="M382.50 39.70A25.2 25.2 0 0 1 386.01 39.95L385.24 45.39A19.7 19.7 0 0 0 382.50 45.20Z" fill="#dfa521"/>
<path d="M384.70 39.80A25.2 25.2 0 0 1 388.17 40.35L386.93 45.70A19.7 19.7 0 0 0 384.22 45.27Z" fill="#dfa921"/>
<path d="M386.88 40.08A25.2 25.2 0 0 1 390.29 40.93L388.59 46.16A19.7 19.7 0 0 0 385.92 45.50Z" fill="#dfad21"/>
<path d="M389.02 40.56A25.2 25.2 0 0 1 392.35 41.70L390.20 46.77A19.7 19.7 0 0 0 387.60 45.87Z" fill="#dfb221"/>
<path d="M391.12 41.22A25.2 25.2 0 0 1 394.33 42.65L391.75 47.51A19.7 19.7 0 0 0 389.24 46.39Z" fill="#e0b622"/>
<path d="M393.15 42.06A25.2 25.2 0 0 1 396.22 43.77L393.23 48.38A19.7 19.7 0 0 0 390.83 47.05Z" fill="#e0ba22"/>
<path d="M395.10 43.08A25.2 25.2 0 0 1 398.01 45.04L394.63 49.38A19.7 19.7 0 0 0 392.35 47.84Z" fill="#e0be22"/>
<path d="M396.95 44.26A25.2 25.2 0 0 1 399.69 46.47L395.94 50.49A19.7 19.7 0 0 0 393.80 48.76Z" fill="#e0c222"/>
<path d="M398.70 45.60A25.2 25.2 0 0 1 401.23 48.04L397.14 51.72A19.7 19.7 0 0 0 395.16 49.81Z" fill="#dfc422"/>
<path d="M400.32 47.08A25.2 25.2 0 0 1 402.63 49.73L398.23 53.04A19.7 19.7 0 0 0 396.43 50.97Z" fill="#dec723"/>
<path d="M401.80 48.70A25.2 25.2 0 0 1 403.87 51.55L399.21 54.46A19.7 19.7 0 0 0 397.59 52.24Z" fill="#ddca23"/>
<path d="M403.14 50.45A25.2 25.2 0 0 1 404.95 53.46L400.05 55.96A19.7 19.7 0 0 0 398.64 53.60Z" fill="#ddcd23"/>
<path d="M404.32 52.30A25.2 25.2 0 0 1 405.87 55.46L400.77 57.52A19.7 19.7 0 0 0 399.56 55.05Z" fill="#dccf23"/>
<path d="M405.34 54.25A25.2 25.2 0 0 1 406.60 57.53L401.34 59.14A19.7 19.7 0 0 0 400.35 56.57Z" fill="#dbd224"/>
<path d="M406.18 56.28A25.2 25.2 0 0 1 407.15 59.66L401.77 60.80A19.7 19.7 0 0 0 401.01 58.16Z" fill="#dad524"/>
<path d="M406.84 58.38A25.2 25.2 0 0 1 407.51 61.83L402.05 62.50A19.7 19.7 0 0 0 401.53 59.80Z" fill="#d6d525"/>
<path d="M407.32 60.52A25.2 25.2 0 0 1 407.68 64.02L402.19 64.21A19.7 19.7 0 0 0 401.90 61.48Z" fill="#ced326"/>
<path d="M407.60 62.70A25.2 25.2 0 0 1 407.67 66.22L402.17 65.93A19.7 19.7 0 0 0 402.13 63.18Z" fill="#c6d028"/>
<path d="M407.70 64.90A25.2 25.2 0 0 1 407.45 68.41L402.01 67.64A19.7 19.7 0 0 0 402.20 64.90Z" fill="#bdce29"/>
<path d="M407.60 67.10A25.2 25.2 0 0 1 407.05 70.57L401.70 69.33A19.7 19.7 0 0 0 402.13 66.62Z" fill="#b5cc2b"/>
<path d="M407.32 69.28A25.2 25.2 0 0 1 406.47 72.69L401.24 70.99A19.7 19.7 0 0 0 401.90 68.32Z" fill="#acc92c"/>
<path d="M406.84 71.42A25.2 25.2 0 0 1 405.70 74.75L400.63 72.60A19.7 19.7 0 0 0 401.53 70.00Z" fill="#98c22d"/>
<path d="M406.18 73.52A25.2 25.2 0 0 1 404.75 76.73L399.89 74.15A19.7 19.7 0 0 0 401.01 71.64Z" fill="#84ba2f"/>
<path d="M405.34 75.55A25.2 25.2 0 0 1 403.63 78.62L399.02 75.63A19.7 19.7 0 0 0 400.35 73.23Z" fill="#71b230"/>
<path d="M404.32 77.50A25.2 25.2 0 0 1 402.36 80.41L398.02 77.03A19.7 19.7 0 0 0 399.56 74.75Z" fill="#5daa31"/>
<path d="M403.14 79.35A25.2 25.2 0 0 1 400.93 82.09L396.91 78.34A19.7 19.7 0 0 0 398.64 76.20Z" fill="#4da432"/>
<path d="M401.80 81.10A25.2 25.2 0 0 1 399.36 83.63L395.68 79.54A19.7 19.7 0 0 0 397.59 77.56Z" fill="#449f33"/>
<path d="M400.32 82.72A25.2 25.2 0 0 1 397.67 85.03L394.36 80.63A19.7 19.7 0 0 0 396.43 78.83Z" fill="#3c9b33"/>
<path d="M398.70 84.20A25.2 25.2 0 0 1 395.85 86.27L392.94 81.61A19.7 19.7 0 0 0 395.16 79.99Z" fill="#349733"/>
<path d="M396.95 85.54A25.2 25.2 0 0 1 395.10 86.72L392.35 81.96A19.7 19.7 0 0 0 393.80 81.04Z" fill="#2c9234"/>
<path d="M369.75 86.98A25.5 25.5 0 1 1 395.25 86.98" fill="none" stroke="#111" stroke-width=".6" stroke-dasharray=".5 1.1" opacity=".8"/>
<path d="M370.80 85.16L369.60 87.24" stroke="#222" stroke-width=".5"/>
<text x="370.05" y="87.16" font-size="1.7" text-anchor="start" fill="#1a0a00" opacity=".7">0</text>
<path d="M362.24 76.60L360.16 77.80" stroke="#222" stroke-width=".5"/>
<text x="360.94" y="78.05" font-size="1.7" text-anchor="start" fill="#1a0a00" opacity=".7">5.000.000</text>
<path d="M359.10 64.90L356.70 64.90" stroke="#222" stroke-width=".5"/>
<text x="357.60" y="65.60" font-size="1.7" text-anchor="start" fill="#1a0a00" opacity=".7">10.000.000</text>
<path d="M362.24 53.20L360.16 52.00" stroke="#222" stroke-width=".5"/>
<text x="360.94" y="53.15" font-size="1.7" text-anchor="start" fill="#1a0a00" opacity=".7">15.000.000</text>
<path d="M370.80 44.64L369.60 42.56" stroke="#222" stroke-width=".5"/>
<text x="370.05" y="44.04" font-size="1.7" text-anchor="start" fill="#1a0a00" opacity=".7">20.000.000</text>
<path d="M382.50 41.50L382.50 39.10" stroke="#222" stroke-width=".5"/>
<text x="382.50" y="42.80" font-size="1.7" text-anchor="middle" fill="#1a0a00" opacity=".7">25.000.000</text>
<path d="M394.20 44.64L395.40 42.56" stroke="#222" stroke-width=".5"/>
<text x="394.95" y="44.04" font-size="1.7" text-anchor="end" fill="#1a0a00" opacity=".7">30.000.000</text>
<path d="M402.76 53.20L404.84 52.00" stroke="#222" stroke-width=".5"/>
<text x="404.06" y="53.15" font-size="1.7" text-anchor="end" fill="#1a0a00" opacity=".7">35.000.000</text>
<path d="M405.90 64.90L408.30 64.90" stroke="#222" stroke-width=".5"/>
<text x="407.40" y="65.60" font-size="1.7" text-anchor="end" fill="#1a0a00" opacity=".7">40.000.000</text>
<path d="M402.76 76.60L404.84 77.80" stroke="#222" stroke-width=".5"/>
<text x="404.06" y="78.05" font-size="1.7" text-anchor="end" fill="#1a0a00" opacity=".7">45.000.000</text>
<path d="M394.20 85.16L395.40 87.24" stroke="#222" stroke-width=".5"/>
<text x="394.95" y="87.16" font-size="1.7" text-anchor="end" fill="#1a0a00" opacity=".7">50.000.000</text>
<path d="M378.12 62.00L395.45 82.42L396.75 81.38L380.64 59.99Z" fill="#6c8bd6"/>
<path d="M377.30 64.16L402.64 75.65L403.36 74.15L378.71 61.26Z" fill="#e69f5f"/>
<circle cx="382.5" cy="64.9" r="2.7" fill="#050505"/>
<text transform="translate(382.5 100.5) scale(0.97 1)" font-size="5.4" text-anchor="middle" fill="#111" stroke="#111" stroke-width=".14">Campagna Dolomiti</text>
<circle cx="311.5" cy="134" r="28.3" fill="#fff" stroke="#060606" stroke-width="2.95"/>
<path d="M298.90 155.82A25.2 25.2 0 0 1 295.99 153.86L299.37 149.52A19.7 19.7 0 0 0 301.65 151.06Z" fill="#c93620"/>
<path d="M297.05 154.64A25.2 25.2 0 0 1 294.31 152.43L298.06 148.41A19.7 19.7 0 0 0 300.20 150.14Z" fill="#ca381f"/>
<path d="M295.30 153.30A25.2 25.2 0 0 1 292.77 150.86L296.86 147.18A19.7 19.7 0 0 0 298.84 149.09Z" fill="#cb391f"/>
<path d="M293.68 151.82A25.2 25.2 0 0 1 291.37 149.17L295.77 145.86A19.7 19.7 0 0 0 297.57 147.93Z" fill="#cc3b1f"/>
<path d="M292.20 150.20A25.2 25.2 0 0 1 290.13 147.35L294.79 144.44A19.7 19.7 0 0 0 296.41 146.66Z" fill="#cd3c1e"/>
<path d="M290.86 148.45A25.2 25.2 0 0 1 289.05 145.44L293.95 142.94A19.7 19.7 0 0 0 295.36 145.30Z" fill="#ce3e1e"/>
<path d="M289.68 146.60A25.2 25.2 0 0 1 288.13 143.44L293.23 141.38A19.7 19.7 0 0 0 294.44 143.85Z" fill="#cf401e"/>
<path d="M288.66 144.65A25.2 25.2 0 0 1 287.40 141.37L292.66 139.76A19.7 19.7 0 0 0 293.65 142.33Z" fill="#d0421d"/>
<path d="M287.82 142.62A25.2 25.2 0 0 1 286.85 139.24L292.23 138.10A19.7 19.7 0 0 0 292.99 140.74Z" fill="#d1461d"/>
<path d="M287.16 140.52A25.2 25.2 0 0 1 286.49 137.07L291.95 136.40A19.7 19.7 0 0 0 292.47 139.10Z" fill="#d24a1d"/>
<path d="M286.68 138.38A25.2 25.2 0 0 1 286.32 134.88L291.81 134.69A19.7 19.7 0 0 0 292.10 137.42Z" fill="#d3501e"/>
<path d="M286.40 136.20A25.2 25.2 0 0 1 286.33 132.68L291.83 132.97A19.7 19.7 0 0 0 291.87 135.72Z" fill="#d5541e"/>
<path d="M286.30 134.00A25.2 25.2 0 0 1 286.55 130.49L291.99 131.26A19.7 19.7 0 0 0 291.80 134.00Z" fill="#d65a1e"/>
<path d="M286.40 131.80A25.2 25.2 0 0 1 286.95 128.33L292.30 129.57A19.7 19.7 0 0 0 291.87 132.28Z" fill="#d75e1f"/>
<path d="M286.68 129.62A25.2 25.2 0 0 1 287.53 126.21L292.76 127.91A19.7 19.7 0 0 0 292.10 130.58Z" fill="#d8641f"/>
<path d="M287.16 127.48A25.2 25.2 0 0 1 288.30 124.15L293.37 126.30A19.7 19.7 0 0 0 292.47 128.90Z" fill="#d9681f"/>
<path d="M287.82 125.38A25.2 25.2 0 0 1 289.25 122.17L294.11 124.75A19.7 19.7 0 0 0 292.99 127.26Z" fill="#da6c1f"/>
<path d="M288.66 123.35A25.2 25.2 0 0 1 290.37 120.28L294.98 123.27A19.7 19.7 0 0 0 293.65 125.67Z" fill="#db701f"/>
<path d="M289.68 121.40A25.2 25.2 0 0 1 291.64 118.49L295.98 121.87A19.7 19.7 0 0 0 294.44 124.15Z" fill="#db741f"/>
<path d="M290.86 119.55A25.2 25.2 0 0 1 293.07 116.81L297.09 120.56A19.7 19.7 0 0 0 295.36 122.70Z" fill="#dc7820"/>
<path d="M292.20 117.80A25.2 25.2 0 0 1 294.64 115.27L298.32 119.36A19.7 19.7 0 0 0 296.41 121.34Z" fill="#dd7d20"/>
<path d="M293.68 116.18A25.2 25.2 0 0 1 296.33 113.87L299.64 118.27A19.7 19.7 0 0 0 297.57 120.07Z" fill="#dd8120"/>
<path d="M295.30 114.70A25.2 25.2 0 0 1 298.15 112.63L301.06 117.29A19.7 19.7 0 0 0 298.84 118.91Z" fill="#de8520"/>
<path d="M297.05 113.36A25.2 25.2 0 0 1 300.06 111.55L302.56 116.45A19.7 19.7 0 0 0 300.20 117.86Z" fill="#de8920"/>
<path d="M298.90 112.18A25.2 25.2 0 0 1 302.06 110.63L304.12 115.73A19.7 19.7 0 0 0 301.65 116.94Z" fill="#de8d20"/>
<path d="M300.85 111.16A25.2 25.2 0 0 1 304.13 109.90L305.74 115.16A19.7 19.7 0 0 0 303.17 116.15Z" fill="#de9120"/>
<path d="M302.88 110.32A25.2 25.2 0 0 1 306.26 109.35L307.40 114.73A19.7 19.7 0 0 0 304.76 115.49Z" fill="#df9521"/>
<path d="M304.98 109.66A25.2 25.2 0 0 1 308.43 108.99L309.10 114.45A19.7 19.7 0 0 0 306.40 114.97Z" fill="#df9921"/>
<path d="M307.12 109.18A25.2 25.2 0 0 1 310.62 108.82L310.81 114.31A19.7 19.7 0 0 0 308.08 114.60Z" fill="#df9d21"/>
<path d="M309.30 108.90A25.2 25.2 0 0 1 312.82 108.83L312.53 114.33A19.7 19.7 0 0 0 309.78 114.37Z" fill="#dfa121"/>
<path d="M311.50 108.80A25.2 25.2 0 0 1 315.01 109.05L314.24 114.49A19.7 19.7 0 0 0 311.50 114.30Z" fill="#dfa521"/>
<path d="M313.70 108.90A25.2 25.2 0 0 1 317.17 109.45L315.93 114.80A19.7 19.7 0 0 0 313.22 114.37Z" fill="#dfa921"/>
<path d="M315.88 109.18A25.2 25.2 0 0 1 319.29 110.03L317.59 115.26A19.7 19.7 0 0 0 314.92 114.60Z" fill="#dfad21"/>
<path d="M318.02 109.66A25.2 25.2 0 0 1 321.35 110.80L319.20 115.87A19.7 19.7 0 0 0 316.60 114.97Z" fill="#dfb221"/>
<path d="M320.12 110.32A25.2 25.2 0 0 1 323.33 111.75L320.75 116.61A19.7 19.7 0 0 0 318.24 115.49Z" fill="#e0b622"/>
<path d="M322.15 111.16A25.2 25.2 0 0 1 325.22 112.87L322.23 117.48A19.7 19.7 0 0 0 319.83 116.15Z" fill="#e0ba22"/>
<path d="M324.10 112.18A25.2 25.2 0 0 1 327.01 114.14L323.63 118.48A19.7 19.7 0 0 0 321.35 116.94Z" fill="#e0be22"/>
<path d="M325.95 113.36A25.2 25.2 0 0 1 328.69 115.57L324.94 119.59A19.7 19.7 0 0 0 322.80 117.86Z" fill="#e0c222"/>
<path d="M327.70 114.70A25.2 25.2 0 0 1 330.23 117.14L326.14 120.82A19.7 19.7 0 0 0 324.16 118.91Z" fill="#dfc422"/>
<path d="M329.32 116.18A25.2 25.2 0 0 1 331.63 118.83L327.23 122.14A19.7 19.7 0 0 0 325.43 120.07Z" fill="#dec723"/>
<path d="M330.80 117.80A25.2 25.2 0 0 1 332.87 120.65L328.21 123.56A19.7 19.7 0 0 0 326.59 121.34Z" fill="#ddca23"/>
<path d="M332.14 119.55A25.2 25.2 0 0 1 333.95 122.56L329.05 125.06A19.7 19.7 0 0 0 327.64 122.70Z" fill="#ddcd23"/>
<path d="M333.32 121.40A25.2 25.2 0 0 1 334.87 124.56L329.77 126.62A19.7 19.7 0 0 0 328.56 124.15Z" fill="#dccf23"/>
<path d="M334.34 123.35A25.2 25.2 0 0 1 335.60 126.63L330.34 128.24A19.7 19.7 0 0 0 329.35 125.67Z" fill="#dbd224"/>
<path d="M335.18 125.38A25.2 25.2 0 0 1 336.15 128.76L330.77 129.90A19.7 19.7 0 0 0 330.01 127.26Z" fill="#dad524"/>
<path d="M335.84 127.48A25.2 25.2 0 0 1 336.51 130.93L331.05 131.60A19.7 19.7 0 0 0 330.53 128.90Z" fill="#d6d525"/>
<path d="M336.32 129.62A25.2 25.2 0 0 1 336.68 133.12L331.19 133.31A19.7 19.7 0 0 0 330.90 130.58Z" fill="#ced326"/>
<path d="M336.60 131.80A25.2 25.2 0 0 1 336.67 135.32L331.17 135.03A19.7 19.7 0 0 0 331.13 132.28Z" fill="#c6d028"/>
<path d="M336.70 134.00A25.2 25.2 0 0 1 336.45 137.51L331.01 136.74A19.7 19.7 0 0 0 331.20 134.00Z" fill="#bdce29"/>
<path d="M336.60 136.20A25.2 25.2 0 0 1 336.05 139.67L330.70 138.43A19.7 19.7 0 0 0 331.13 135.72Z" fill="#b5cc2b"/>
<path d="M336.32 138.38A25.2 25.2 0 0 1 335.47 141.79L330.24 140.09A19.7 19.7 0 0 0 330.90 137.42Z" fill="#acc92c"/>
<path d="M335.84 140.52A25.2 25.2 0 0 1 334.70 143.85L329.63 141.70A19.7 19.7 0 0 0 330.53 139.10Z" fill="#98c22d"/>
<path d="M335.18 142.62A25.2 25.2 0 0 1 333.75 145.83L328.89 143.25A19.7 19.7 0 0 0 330.01 140.74Z" fill="#84ba2f"/>
<path d="M334.34 144.65A25.2 25.2 0 0 1 332.63 147.72L328.02 144.73A19.7 19.7 0 0 0 329.35 142.33Z" fill="#71b230"/>
<path d="M333.32 146.60A25.2 25.2 0 0 1 331.36 149.51L327.02 146.13A19.7 19.7 0 0 0 328.56 143.85Z" fill="#5daa31"/>
<path d="M332.14 148.45A25.2 25.2 0 0 1 329.93 151.19L325.91 147.44A19.7 19.7 0 0 0 327.64 145.30Z" fill="#4da432"/>
<path d="M330.80 150.20A25.2 25.2 0 0 1 328.36 152.73L324.68 148.64A19.7 19.7 0 0 0 326.59 146.66Z" fill="#449f33"/>
<path d="M329.32 151.82A25.2 25.2 0 0 1 326.67 154.13L323.36 149.73A19.7 19.7 0 0 0 325.43 147.93Z" fill="#3c9b33"/>
<path d="M327.70 153.30A25.2 25.2 0 0 1 324.85 155.37L321.94 150.71A19.7 19.7 0 0 0 324.16 149.09Z" fill="#349733"/>
<path d="M325.95 154.64A25.2 25.2 0 0 1 324.10 155.82L321.35 151.06A19.7 19.7 0 0 0 322.80 150.14Z" fill="#2c9234"/>
<path d="M298.75 156.08A25.5 25.5 0 1 1 324.25 156.08" fill="none" stroke="#111" stroke-width=".6" stroke-dasharray=".5 1.1" opacity=".8"/>
<path d="M299.80 154.26L298.60 156.34" stroke="#222" stroke-width=".5"/>
<text x="299.05" y="156.26" font-size="1.7" text-anchor="start" fill="#1a0a00" opacity=".7">0</text>
<path d="M291.24 145.70L289.16 146.90" stroke="#222" stroke-width=".5"/>
<text x="289.94" y="147.15" font-size="1.7" text-anchor="start" fill="#1a0a00" opacity=".7">5.000.000</text>
<path d="M288.10 134.00L285.70 134.00" stroke="#222" stroke-width=".5"/>
<text x="286.60" y="134.70" font-size="1.7" text-anchor="start" fill="#1a0a00" opacity=".7">10.000.000</text>
<path d="M291.24 122.30L289.16 121.10" stroke="#222" stroke-width=".5"/>
<text x="289.94" y="122.25" font-size="1.7" text-anchor="start" fill="#1a0a00" opacity=".7">15.000.000</text>
<path d="M299.80 113.74L298.60 111.66" stroke="#222" stroke-width=".5"/>
<text x="299.05" y="113.14" font-size="1.7" text-anchor="start" fill="#1a0a00" opacity=".7">20.000.000</text>
<path d="M311.50 110.60L311.50 108.20" stroke="#222" stroke-width=".5"/>
<text x="311.50" y="111.90" font-size="1.7" text-anchor="middle" fill="#1a0a00" opacity=".7">25.000.000</text>
<path d="M323.20 113.74L324.40 111.66" stroke="#222" stroke-width=".5"/>
<text x="323.95" y="113.14" font-size="1.7" text-anchor="end" fill="#1a0a00" opacity=".7">30.000.000</text>
<path d="M331.76 122.30L333.84 121.10" stroke="#222" stroke-width=".5"/>
<text x="333.06" y="122.25" font-size="1.7" text-anchor="end" fill="#1a0a00" opacity=".7">35.000.000</text>
<path d="M334.90 134.00L337.30 134.00" stroke="#222" stroke-width=".5"/>
<text x="336.40" y="134.70" font-size="1.7" text-anchor="end" fill="#1a0a00" opacity=".7">40.000.000</text>
<path d="M331.76 145.70L333.84 146.90" stroke="#222" stroke-width=".5"/>
<text x="333.06" y="147.15" font-size="1.7" text-anchor="end" fill="#1a0a00" opacity=".7">45.000.000</text>
<path d="M323.20 154.26L324.40 156.34" stroke="#222" stroke-width=".5"/>
<text x="323.95" y="156.26" font-size="1.7" text-anchor="end" fill="#1a0a00" opacity=".7">50.000.000</text>
<path d="M307.91 137.84L331.70 123.73L330.90 122.27L306.35 135.02Z" fill="#6c8bd6"/>
<path d="M308.82 138.52L329.25 119.42L328.15 118.18L306.69 136.10Z" fill="#e69f5f"/>
<circle cx="311.5" cy="134" r="2.7" fill="#050505"/>
<text transform="translate(311.5 169.5) scale(0.97 1)" font-size="5.4" text-anchor="middle" fill="#111" stroke="#111" stroke-width=".14">Campagna Morgana</text>
<circle cx="382.5" cy="134" r="28.3" fill="#fff" stroke="#060606" stroke-width="2.95"/>
<path d="M369.90 155.82A25.2 25.2 0 0 1 366.99 153.86L370.37 149.52A19.7 19.7 0 0 0 372.65 151.06Z" fill="#c93620"/>
<path d="M368.05 154.64A25.2 25.2 0 0 1 365.31 152.43L369.06 148.41A19.7 19.7 0 0 0 371.20 150.14Z" fill="#ca381f"/>
<path d="M366.30 153.30A25.2 25.2 0 0 1 363.77 150.86L367.86 147.18A19.7 19.7 0 0 0 369.84 149.09Z" fill="#cb391f"/>
<path d="M364.68 151.82A25.2 25.2 0 0 1 362.37 149.17L366.77 145.86A19.7 19.7 0 0 0 368.57 147.93Z" fill="#cc3b1f"/>
<path d="M363.20 150.20A25.2 25.2 0 0 1 361.13 147.35L365.79 144.44A19.7 19.7 0 0 0 367.41 146.66Z" fill="#cd3c1e"/>
<path d="M361.86 148.45A25.2 25.2 0 0 1 360.05 145.44L364.95 142.94A19.7 19.7 0 0 0 366.36 145.30Z" fill="#ce3e1e"/>
<path d="M360.68 146.60A25.2 25.2 0 0 1 359.13 143.44L364.23 141.38A19.7 19.7 0 0 0 365.44 143.85Z" fill="#cf401e"/>
<path d="M359.66 144.65A25.2 25.2 0 0 1 358.40 141.37L363.66 139.76A19.7 19.7 0 0 0 364.65 142.33Z" fill="#d0421d"/>
<path d="M358.82 142.62A25.2 25.2 0 0 1 357.85 139.24L363.23 138.10A19.7 19.7 0 0 0 363.99 140.74Z" fill="#d1461d"/>
<path d="M358.16 140.52A25.2 25.2 0 0 1 357.49 137.07L362.95 136.40A19.7 19.7 0 0 0 363.47 139.10Z" fill="#d24a1d"/>
<path d="M357.68 138.38A25.2 25.2 0 0 1 357.32 134.88L362.81 134.69A19.7 19.7 0 0 0 363.10 137.42Z" fill="#d3501e"/>
<path d="M357.40 136.20A25.2 25.2 0 0 1 357.33 132.68L362.83 132.97A19.7 19.7 0 0 0 362.87 135.72Z" fill="#d5541e"/>
<path d="M357.30 134.00A25.2 25.2 0 0 1 357.55 130.49L362.99 131.26A19.7 19.7 0 0 0 362.80 134.00Z" fill="#d65a1e"/>
<path d="M357.40 131.80A25.2 25.2 0 0 1 357.95 128.33L363.30 129.57A19.7 19.7 0 0 0 362.87 132.28Z" fill="#d75e1f"/>
<path d="M357.68 129.62A25.2 25.2 0 0 1 358.53 126.21L363.76 127.91A19.7 19.7 0 0 0 363.10 130.58Z" fill="#d8641f"/>
<path d="M358.16 127.48A25.2 25.2 0 0 1 359.30 124.15L364.37 126.30A19.7 19.7 0 0 0 363.47 128.90Z" fill="#d9681f"/>
<path d="M358.82 125.38A25.2 25.2 0 0 1 360.25 122.17L365.11 124.75A19.7 19.7 0 0 0 363.99 127.26Z" fill="#da6c1f"/>
<path d="M359.66 123.35A25.2 25.2 0 0 1 361.37 120.28L365.98 123.27A19.7 19.7 0 0 0 364.65 125.67Z" fill="#db701f"/>
<path d="M360.68 121.40A25.2 25.2 0 0 1 362.64 118.49L366.98 121.87A19.7 19.7 0 0 0 365.44 124.15Z" fill="#db741f"/>
<path d="M361.86 119.55A25.2 25.2 0 0 1 364.07 116.81L368.09 120.56A19.7 19.7 0 0 0 366.36 122.70Z" fill="#dc7820"/>
<path d="M363.20 117.80A25.2 25.2 0 0 1 365.64 115.27L369.32 119.36A19.7 19.7 0 0 0 367.41 121.34Z" fill="#dd7d20"/>
<path d="M364.68 116.18A25.2 25.2 0 0 1 367.33 113.87L370.64 118.27A19.7 19.7 0 0 0 368.57 120.07Z" fill="#dd8120"/>
<path d="M366.30 114.70A25.2 25.2 0 0 1 369.15 112.63L372.06 117.29A19.7 19.7 0 0 0 369.84 118.91Z" fill="#de8520"/>
<path d="M368.05 113.36A25.2 25.2 0 0 1 371.06 111.55L373.56 116.45A19.7 19.7 0 0 0 371.20 117.86Z" fill="#de8920"/>
<path d="M369.90 112.18A25.2 25.2 0 0 1 373.06 110.63L375.12 115.73A19.7 19.7 0 0 0 372.65 116.94Z" fill="#de8d20"/>
<path d="M371.85 111.16A25.2 25.2 0 0 1 375.13 109.90L376.74 115.16A19.7 19.7 0 0 0 374.17 116.15Z" fill="#de9120"/>
<path d="M373.88 110.32A25.2 25.2 0 0 1 377.26 109.35L378.40 114.73A19.7 19.7 0 0 0 375.76 115.49Z" fill="#df9521"/>
<path d="M375.98 109.66A25.2 25.2 0 0 1 379.43 108.99L380.10 114.45A19.7 19.7 0 0 0 377.40 114.97Z" fill="#df9921"/>
<path d="M378.12 109.18A25.2 25.2 0 0 1 381.62 108.82L381.81 114.31A19.7 19.7 0 0 0 379.08 114.60Z" fill="#df9d21"/>
<path d="M380.30 108.90A25.2 25.2 0 0 1 383.82 108.83L383.53 114.33A19.7 19.7 0 0 0 380.78 114.37Z" fill="#dfa121"/>
<path d="M382.50 108.80A25.2 25.2 0 0 1 386.01 109.05L385.24 114.49A19.7 19.7 0 0 0 382.50 114.30Z" fill="#dfa521"/>
<path d="M384.70 108.90A25.2 25.2 0 0 1 388.17 109.45L386.93 114.80A19.7 19.7 0 0 0 384.22 114.37Z" fill="#dfa921"/>
<path d="M386.88 109.18A25.2 25.2 0 0 1 390.29 110.03L388.59 115.26A19.7 19.7 0 0 0 385.92 114.60Z" fill="#dfad21"/>
<path d="M389.02 109.66A25.2 25.2 0 0 1 392.35 110.80L390.20 115.87A19.7 19.7 0 0 0 387.60 114.97Z" fill="#dfb221"/>
<path d="M391.12 110.32A25.2 25.2 0 0 1 394.33 111.75L391.75 116.61A19.7 19.7 0 0 0 389.24 115.49Z" fill="#e0b622"/>
<path d="M393.15 111.16A25.2 25.2 0 0 1 396.22 112.87L393.23 117.48A19.7 19.7 0 0 0 390.83 116.15Z" fill="#e0ba22"/>
<path d="M395.10 112.18A25.2 25.2 0 0 1 398.01 114.14L394.63 118.48A19.7 19.7 0 0 0 392.35 116.94Z" fill="#e0be22"/>
<path d="M396.95 113.36A25.2 25.2 0 0 1 399.69 115.57L395.94 119.59A19.7 19.7 0 0 0 393.80 117.86Z" fill="#e0c222"/>
<path d="M398.70 114.70A25.2 25.2 0 0 1 401.23 117.14L397.14 120.82A19.7 19.7 0 0 0 395.16 118.91Z" fill="#dfc422"/>
<path d="M400.32 116.18A25.2 25.2 0 0 1 402.63 118.83L398.23 122.14A19.7 19.7 0 0 0 396.43 120.07Z" fill="#dec723"/>
<path d="M401.80 117.80A25.2 25.2 0 0 1 403.87 120.65L399.21 123.56A19.7 19.7 0 0 0 397.59 121.34Z" fill="#ddca23"/>
<path d="M403.14 119.55A25.2 25.2 0 0 1 404.95 122.56L400.05 125.06A19.7 19.7 0 0 0 398.64 122.70Z" fill="#ddcd23"/>
<path d="M404.32 121.40A25.2 25.2 0 0 1 405.87 124.56L400.77 126.62A19.7 19.7 0 0 0 399.56 124.15Z" fill="#dccf23"/>
<path d="M405.34 123.35A25.2 25.2 0 0 1 406.60 126.63L401.34 128.24A19.7 19.7 0 0 0 400.35 125.67Z" fill="#dbd224"/>
<path d="M406.18 125.38A25.2 25.2 0 0 1 407.15 128.76L401.77 129.90A19.7 19.7 0 0 0 401.01 127.26Z" fill="#dad524"/>
<path d="M406.84 127.48A25.2 25.2 0 0 1 407.51 130.93L402.05 131.60A19.7 19.7 0 0 0 401.53 128.90Z" fill="#d6d525"/>
<path d="M407.32 129.62A25.2 25.2 0 0 1 407.68 133.12L402.19 133.31A19.7 19.7 0 0 0 401.90 130.58Z" fill="#ced326"/>
<path d="M407.60 131.80A25.2 25.2 0 0 1 407.67 135.32L402.17 135.03A19.7 19.7 0 0 0 402.13 132.28Z" fill="#c6d028"/>
<path d="M407.70 134.00A25.2 25.2 0 0 1 407.45 137.51L402.01 136.74A19.7 19.7 0 0 0 402.20 134.00Z" fill="#bdce29"/>
<path d="M407.60 136.20A25.2 25.2 0 0 1 407.05 139.67L401.70 138.43A19.7 19.7 0 0 0 402.13 135.72Z" fill="#b5cc2b"/>
<path d="M407.32 138.38A25.2 25.2 0 0 1 406.47 141.79L401.24 140.09A19.7 19.7 0 0 0 401.90 137.42Z" fill="#acc92c"/>
<path d="M406.84 140.52A25.2 25.2 0 0 1 405.70 143.85L400.63 141.70A19.7 19.7 0 0 0 401.53 139.10Z" fill="#98c22d"/>
<path d="M406.18 142.62A25.2 25.2 0 0 1 404.75 145.83L399.89 143.25A19.7 19.7 0 0 0 401.01 140.74Z" fill="#84ba2f"/>
<path d="M405.34 144.65A25.2 25.2 0 0 1 403.63 147.72L399.02 144.73A19.7 19.7 0 0 0 400.35 142.33Z" fill="#71b230"/>
<path d="M404.32 146.60A25.2 25.2 0 0 1 402.36 149.51L398.02 146.13A19.7 19.7 0 0 0 399.56 143.85Z" fill="#5daa31"/>
<path d="M403.14 148.45A25.2 25.2 0 0 1 400.93 151.19L396.91 147.44A19.7 19.7 0 0 0 398.64 145.30Z" fill="#4da432"/>
<path d="M401.80 150.20A25.2 25.2 0 0 1 399.36 152.73L395.68 148.64A19.7 19.7 0 0 0 397.59 146.66Z" fill="#449f33"/>
<path d="M400.32 151.82A25.2 25.2 0 0 1 397.67 154.13L394.36 149.73A19.7 19.7 0 0 0 396.43 147.93Z" fill="#3c9b33"/>
<path d="M398.70 153.30A25.2 25.2 0 0 1 395.85 155.37L392.94 150.71A19.7 19.7 0 0 0 395.16 149.09Z" fill="#349733"/>
<path d="M396.95 154.64A25.2 25.2 0 0 1 395.10 155.82L392.35 151.06A19.7 19.7 0 0 0 393.80 150.14Z" fill="#2c9234"/>
<path d="M369.75 156.08A25.5 25.5 0 1 1 395.25 156.08" fill="none" stroke="#111" stroke-width=".6" stroke-dasharray=".5 1.1" opacity=".8"/>
<path d="M370.80 154.26L369.60 156.34" stroke="#222" stroke-width=".5"/>
<text x="370.05" y="156.26" font-size="1.7" text-anchor="start" fill="#1a0a00" opacity=".7">0</text>
<path d="M362.24 145.70L360.16 146.90" stroke="#222" stroke-width=".5"/>
<text x="360.94" y="147.15" font-size="1.7" text-anchor="start" fill="#1a0a00" opacity=".7">5.000.000</text>
<path d="M359.10 134.00L356.70 134.00" stroke="#222" stroke-width=".5"/>
<text x="357.60" y="134.70" font-size="1.7" text-anchor="start" fill="#1a0a00" opacity=".7">10.000.000</text>
<path d="M362.24 122.30L360.16 121.10" stroke="#222" stroke-width=".5"/>
<text x="360.94" y="122.25" font-size="1.7" text-anchor="start" fill="#1a0a00" opacity=".7">15.000.000</text>
<path d="M370.80 113.74L369.60 111.66" stroke="#222" stroke-width=".5"/>
<text x="370.05" y="113.14" font-size="1.7" text-anchor="start" fill="#1a0a00" opacity=".7">20.000.000</text>
<path d="M382.50 110.60L382.50 108.20" stroke="#222" stroke-width=".5"/>
<text x="382.50" y="111.90" font-size="1.7" text-anchor="middle" fill="#1a0a00" opacity=".7">25.000.000</text>
<path d="M394.20 113.74L395.40 111.66" stroke="#222" stroke-width=".5"/>
<text x="394.95" y="113.14" font-size="1.7" text-anchor="end" fill="#1a0a00" opacity=".7">30.000.000</text>
<path d="M402.76 122.30L404.84 121.10" stroke="#222" stroke-width=".5"/>
<text x="404.06" y="122.25" font-size="1.7" text-anchor="end" fill="#1a0a00" opacity=".7">35.000.000</text>
<path d="M405.90 134.00L408.30 134.00" stroke="#222" stroke-width=".5"/>
<text x="407.40" y="134.70" font-size="1.7" text-anchor="end" fill="#1a0a00" opacity=".7">40.000.000</text>
<path d="M402.76 145.70L404.84 146.90" stroke="#222" stroke-width=".5"/>
<text x="404.06" y="147.15" font-size="1.7" text-anchor="end" fill="#1a0a00" opacity=".7">45.000.000</text>
<path d="M394.20 154.26L395.40 156.34" stroke="#222" stroke-width=".5"/>
<text x="394.95" y="156.26" font-size="1.7" text-anchor="end" fill="#1a0a00" opacity=".7">50.000.000</text>
<path d="M377.32 133.10L402.31 145.34L403.09 143.86L378.82 130.25Z" fill="#6c8bd6"/>
<path d="M377.30 134.77L405.16 138.62L405.44 136.98L377.83 131.59Z" fill="#e69f5f"/>
<circle cx="382.5" cy="134" r="2.7" fill="#050505"/>
<text transform="translate(382.5 169.5) scale(0.97 1)" font-size="5.4" text-anchor="middle" fill="#111" stroke="#111" stroke-width=".14">Campagna Orso Polare</text>
<text x="346.6" y="177.5" font-size="5.6" font-weight="bold" text-anchor="middle" fill="#111">Nome campagna</text>
<rect x="419.8" y="35.6" width="5.8" height="5.2" fill="#6c8cd2"/><text transform="translate(427.5 40.1) scale(1 1)" font-size="5.5" text-anchor="start" fill="#111" stroke="#111" stroke-width=".14">Ricavo</text>
<rect x="419.8" y="43.8" width="5.8" height="5.4" fill="#e59d58"/><text transform="translate(427.5 48.1) scale(0.98 1)" font-size="5.5" text-anchor="start" fill="#111" stroke="#111" stroke-width=".14">Entrate da piano promozione</text>
<!-- pies -->
<path d="M84.38 253.55A30 30 0 0 1 65.44 282.49L59.33 267.06A13.4 13.4 0 0 0 67.79 254.13Z" fill="#7a96d2"/>
<path d="M65.64 282.42A30 30 0 0 1 31.97 274.52L44.38 263.50A13.4 13.4 0 0 0 59.42 267.02Z" fill="#e4a55e"/>
<path d="M32.11 274.67A30 30 0 0 1 26.87 242.69L42.10 249.28A13.4 13.4 0 0 0 44.44 263.57Z" fill="#728f55"/>
<path d="M26.78 242.88A30 30 0 0 1 28.52 239.42L42.84 247.82A13.4 13.4 0 0 0 42.07 249.36Z" fill="#b4c572"/>
<path d="M28.42 239.60A30 30 0 0 1 60.59 225.24L57.16 241.49A13.4 13.4 0 0 0 42.80 247.90Z" fill="#676e9c"/>
<path d="M60.38 225.20A30 30 0 0 1 80.99 240.70L66.28 248.39A13.4 13.4 0 0 0 57.07 241.47Z" fill="#b9c7e6"/>
<path d="M80.89 240.52A30 30 0 0 1 84.39 253.76L67.79 254.23A13.4 13.4 0 0 0 66.23 248.31Z" fill="#8d4674"/>
<circle cx="54.4" cy="254.6" r="30" fill="url(#plin)"/>
<circle cx="54.4" cy="254.6" r="30" fill="url(#pout)"/>
<circle cx="54.4" cy="254.6" r="30" fill="url(#pin)"/>
<path d="M37.30 234.22A26.6 26.6 0 0 1 80.42 260.13" fill="none" stroke="#fff" stroke-width="2.8" stroke-linecap="round" opacity=".6" filter="url(#b2)"/>
<path d="M58.31 269.19A15.1 15.1 0 0 1 40.21 249.44" fill="none" stroke="#fff" stroke-width="3" stroke-linecap="round" opacity=".85" filter="url(#b2)"/>
<circle cx="54.4" cy="254.6" r="13.4" fill="#fff"/>
<text transform="translate(53.4 290.6) scale(1.0 1)" font-size="5.45" text-anchor="middle" fill="#111" stroke="#111" stroke-width=".14">Accessori personali</text>
<path d="M165.60 255.52A30 30 0 0 1 152.38 279.87L143.09 266.11A13.4 13.4 0 0 0 149.00 255.23Z" fill="#7a96d2"/>
<path d="M152.55 279.75A30 30 0 0 1 136.96 284.97L136.21 268.39A13.4 13.4 0 0 0 143.17 266.06Z" fill="#e4a55e"/>
<path d="M137.17 284.96A30 30 0 0 1 119.97 280.61L128.62 266.44A13.4 13.4 0 0 0 136.30 268.38Z" fill="#728f55"/>
<path d="M120.15 280.72A30 30 0 0 1 118.22 279.45L127.84 265.92A13.4 13.4 0 0 0 128.70 266.49Z" fill="#b4c572"/>
<path d="M118.39 279.57A30 30 0 0 1 108.41 242.32L123.46 249.34A13.4 13.4 0 0 0 127.91 265.98Z" fill="#676e9c"/>
<path d="M108.32 242.51A30 30 0 0 1 150.78 229.12L142.38 243.44A13.4 13.4 0 0 0 123.42 249.42Z" fill="#b9c7e6"/>
<path d="M150.60 229.02A30 30 0 0 1 165.59 255.73L149.00 255.33A13.4 13.4 0 0 0 142.30 243.40Z" fill="#8d4674"/>
<circle cx="135.6" cy="255" r="30" fill="url(#plin)"/>
<circle cx="135.6" cy="255" r="30" fill="url(#pout)"/>
<circle cx="135.6" cy="255" r="30" fill="url(#pin)"/>
<path d="M118.50 234.62A26.6 26.6 0 0 1 161.62 260.53" fill="none" stroke="#fff" stroke-width="2.8" stroke-linecap="round" opacity=".6" filter="url(#b2)"/>
<path d="M139.51 269.59A15.1 15.1 0 0 1 121.41 249.84" fill="none" stroke="#fff" stroke-width="3" stroke-linecap="round" opacity=".85" filter="url(#b2)"/>
<circle cx="135.6" cy="255" r="13.4" fill="#fff"/>
<text transform="translate(134.6 290.6) scale(1.0 1)" font-size="5.45" text-anchor="middle" fill="#111" stroke="#111" stroke-width=".14">Attrezzatura da golf</text>
<path d="M247.00 255.52A30 30 0 0 1 231.50 281.26L223.48 266.73A13.4 13.4 0 0 0 230.40 255.23Z" fill="#7a96d2"/>
<path d="M231.68 281.16A30 30 0 0 1 212.62 284.68L215.04 268.26A13.4 13.4 0 0 0 223.56 266.69Z" fill="#e4a55e"/>
<path d="M212.82 284.71A30 30 0 0 1 192.92 272.89L206.24 262.99A13.4 13.4 0 0 0 215.14 268.27Z" fill="#728f55"/>
<path d="M193.04 273.05A30 30 0 0 1 190.18 268.43L205.02 261.00A13.4 13.4 0 0 0 206.30 263.06Z" fill="#b4c572"/>
<path d="M190.27 268.62A30 30 0 0 1 201.28 229.45L209.98 243.59A13.4 13.4 0 0 0 205.06 261.08Z" fill="#676e9c"/>
<path d="M201.10 229.56A30 30 0 0 1 237.84 233.42L226.31 245.36A13.4 13.4 0 0 0 209.90 243.64Z" fill="#b9c7e6"/>
<path d="M237.69 233.27A30 30 0 0 1 246.99 255.73L230.40 255.33A13.4 13.4 0 0 0 226.24 245.30Z" fill="#8d4674"/>
<circle cx="217" cy="255" r="30" fill="url(#plin)"/>
<circle cx="217" cy="255" r="30" fill="url(#pout)"/>
<circle cx="217" cy="255" r="30" fill="url(#pin)"/>
<path d="M199.90 234.62A26.6 26.6 0 0 1 243.02 260.53" fill="none" stroke="#fff" stroke-width="2.8" stroke-linecap="round" opacity=".6" filter="url(#b2)"/>
<path d="M220.91 269.59A15.1 15.1 0 0 1 202.81 249.84" fill="none" stroke="#fff" stroke-width="3" stroke-linecap="round" opacity=".85" filter="url(#b2)"/>
<circle cx="217" cy="255" r="13.4" fill="#fff"/>
<text transform="translate(216 290.6) scale(1.0 1)" font-size="5.45" text-anchor="middle" fill="#111" stroke="#111" stroke-width=".14">Attrezzatura per alpinismo</text>
<path d="M84.36 326.17A30 30 0 0 1 76.20 345.21L64.14 333.81A13.4 13.4 0 0 0 67.78 325.30Z" fill="#7a96d2"/>
<path d="M76.34 345.06A30 30 0 0 1 59.92 354.09L56.86 337.77A13.4 13.4 0 0 0 64.20 333.74Z" fill="#e4a55e"/>
<path d="M60.12 354.05A30 30 0 0 1 28.06 338.96L42.64 331.01A13.4 13.4 0 0 0 56.96 337.75Z" fill="#728f55"/>
<path d="M28.16 339.14A30 30 0 0 1 26.70 336.13L42.03 329.75A13.4 13.4 0 0 0 42.68 331.10Z" fill="#b4c572"/>
<path d="M26.78 336.32A30 30 0 0 1 32.97 303.61L44.83 315.22A13.4 13.4 0 0 0 42.07 329.84Z" fill="#676e9c"/>
<path d="M32.82 303.76A30 30 0 0 1 58.26 294.85L56.13 311.31A13.4 13.4 0 0 0 44.76 315.29Z" fill="#b9c7e6"/>
<path d="M58.06 294.82A30 30 0 0 1 84.35 326.38L67.78 325.39A13.4 13.4 0 0 0 56.03 311.30Z" fill="#8d4674"/>
<circle cx="54.4" cy="324.6" r="30" fill="url(#plin)"/>
<circle cx="54.4" cy="324.6" r="30" fill="url(#pout)"/>
<circle cx="54.4" cy="324.6" r="30" fill="url(#pin)"/>
<path d="M37.30 304.22A26.6 26.6 0 0 1 80.42 330.13" fill="none" stroke="#fff" stroke-width="2.8" stroke-linecap="round" opacity=".6" filter="url(#b2)"/>
<path d="M58.31 339.19A15.1 15.1 0 0 1 40.21 319.44" fill="none" stroke="#fff" stroke-width="3" stroke-linecap="round" opacity=".85" filter="url(#b2)"/>
<circle cx="54.4" cy="324.6" r="13.4" fill="#fff"/>
<text transform="translate(53.4 360) scale(1.0 1)" font-size="5.45" text-anchor="middle" fill="#111" stroke="#111" stroke-width=".14">Attrezzatura per campeggio</text>
<path d="M165.58 325.65A30 30 0 0 1 160.85 340.81L146.88 331.84A13.4 13.4 0 0 0 148.99 325.07Z" fill="#7a96d2"/>
<path d="M160.96 340.63A30 30 0 0 1 146.06 352.72L140.27 337.16A13.4 13.4 0 0 0 146.93 331.76Z" fill="#e4a55e"/>
<path d="M146.25 352.64A30 30 0 0 1 119.70 350.04L128.50 335.96A13.4 13.4 0 0 0 140.36 337.13Z" fill="#728f55"/>
<path d="M119.88 350.15A30 30 0 0 1 116.72 347.91L127.17 335.01A13.4 13.4 0 0 0 128.58 336.01Z" fill="#b4c572"/>
<path d="M116.88 348.05A30 30 0 0 1 105.90 328.83L122.33 326.49A13.4 13.4 0 0 0 127.24 335.07Z" fill="#676e9c"/>
<path d="M105.93 329.03A30 30 0 0 1 154.07 300.96L143.85 314.04A13.4 13.4 0 0 0 122.35 326.58Z" fill="#b9c7e6"/>
<path d="M153.90 300.83A30 30 0 0 1 165.57 325.86L148.99 325.16A13.4 13.4 0 0 0 143.78 313.98Z" fill="#8d4674"/>
<circle cx="135.6" cy="324.6" r="30" fill="url(#plin)"/>
<circle cx="135.6" cy="324.6" r="30" fill="url(#pout)"/>
<circle cx="135.6" cy="324.6" r="30" fill="url(#pin)"/>
<path d="M118.50 304.22A26.6 26.6 0 0 1 161.62 330.13" fill="none" stroke="#fff" stroke-width="2.8" stroke-linecap="round" opacity=".6" filter="url(#b2)"/>
<path d="M139.51 339.19A15.1 15.1 0 0 1 121.41 319.44" fill="none" stroke="#fff" stroke-width="3" stroke-linecap="round" opacity=".85" filter="url(#b2)"/>
<circle cx="135.6" cy="324.6" r="13.4" fill="#fff"/>
<text transform="translate(134.6 360) scale(1.0 1)" font-size="5.45" text-anchor="middle" fill="#111" stroke="#111" stroke-width=".14">Protezione personale</text>
<text x="134.5" y="368" font-size="5.7" font-weight="bold" text-anchor="middle" fill="#111">Linea di prodotti</text>
<rect x="13.8" y="371.2" width="6" height="5.6" fill="#7a96d2"/><text transform="translate(21.6 375.9) scale(1.0 1)" font-size="5.45" text-anchor="start" fill="#111" stroke="#111" stroke-width=".14">Costo pubblicità per corrisp...</text>
<rect x="95" y="371.2" width="6" height="5.6" fill="#e4a55e"/><text transform="translate(102.8 375.9) scale(1.0 1)" font-size="5.45" text-anchor="start" fill="#111" stroke="#111" stroke-width=".14">Costo pubblicità per posta el...</text>
<rect x="177.4" y="371.2" width="6" height="5.6" fill="#728f55"/><text transform="translate(185.20000000000002 375.9) scale(1.0 1)" font-size="5.45" text-anchor="start" fill="#111" stroke="#111" stroke-width=".14">Costo pubblicità su riviste</text>
<rect x="13.8" y="379.1" width="6" height="5.6" fill="#b4c572"/><text transform="translate(21.6 383.8) scale(1.0 1)" font-size="5.45" text-anchor="start" fill="#111" stroke="#111" stroke-width=".14">Altro costo pubblicità</text>
<rect x="95" y="379.1" width="6" height="5.6" fill="#676e9c"/><text transform="translate(102.8 383.8) scale(1.0 1)" font-size="5.45" text-anchor="start" fill="#111" stroke="#111" stroke-width=".14">Costo pubblicità per radio</text>
<rect x="177.4" y="379.1" width="6" height="5.6" fill="#b9c7e6"/><text transform="translate(185.20000000000002 383.8) scale(1.0 1)" font-size="5.45" text-anchor="start" fill="#111" stroke="#111" stroke-width=".14">Costo per sponsorship</text>
<rect x="13.8" y="387.0" width="6" height="5.6" fill="#8d4674"/><text transform="translate(21.6 391.7) scale(1.0 1)" font-size="5.45" text-anchor="start" fill="#111" stroke="#111" stroke-width=".14">Costo pubblicità per televisi...</text>
</svg>
<!-- bottom strip -->
<div class="abs" style="left:0;top:398px;width:640px;height:2px;background:linear-gradient(#c3cedc,#98a5b7)"></div>
</body></html>
